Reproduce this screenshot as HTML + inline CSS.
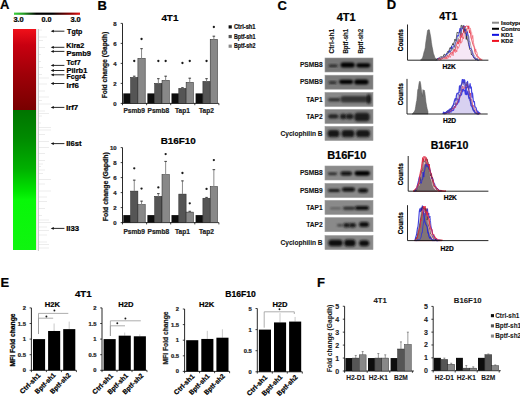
<!DOCTYPE html>
<html><head><meta charset="utf-8"><style>
html,body{margin:0;padding:0;background:#fff;width:520px;height:396px;overflow:hidden}
svg{display:block}
text{font-family:"Liberation Sans",sans-serif;font-weight:bold}
</style></head><body>
<svg width="520" height="396" viewBox="0 0 520 396">
<rect width="520" height="396" fill="#fff"/>
<text x="0" y="9.3" font-size="13" text-anchor="start" fill="#000" font-weight="bold" stroke="#000" stroke-width="0.22" >A</text>
<text x="97.6" y="9.6" font-size="13" text-anchor="start" fill="#000" font-weight="bold" stroke="#000" stroke-width="0.22" >B</text>
<text x="277.5" y="9.6" font-size="13" text-anchor="start" fill="#000" font-weight="bold" stroke="#000" stroke-width="0.22" >C</text>
<text x="386.8" y="9.4" font-size="13" text-anchor="start" fill="#000" font-weight="bold" stroke="#000" stroke-width="0.22" >D</text>
<text x="0.4" y="286.5" font-size="13" text-anchor="start" fill="#000" font-weight="bold" stroke="#000" stroke-width="0.22" >E</text>
<text x="317.0" y="286.5" font-size="13" text-anchor="start" fill="#000" font-weight="bold" stroke="#000" stroke-width="0.22" >F</text>
<defs><linearGradient id="cbar" x1="0" x2="1" y1="0" y2="0"><stop offset="0" stop-color="#3fd13f"/><stop offset="0.15" stop-color="#229a22"/><stop offset="0.34" stop-color="#000"/><stop offset="0.58" stop-color="#000"/><stop offset="0.85" stop-color="#8a0000"/><stop offset="1" stop-color="#e61414"/></linearGradient><linearGradient id="hred" x1="0" x2="0" y1="0" y2="1"><stop offset="0" stop-color="#f0101a"/><stop offset="0.2" stop-color="#c80010"/><stop offset="0.55" stop-color="#a00008"/><stop offset="1" stop-color="#780000"/></linearGradient><linearGradient id="hgreen" x1="0" x2="0" y1="0" y2="1"><stop offset="0" stop-color="#007400"/><stop offset="0.2" stop-color="#008a00"/><stop offset="0.42" stop-color="#00b000"/><stop offset="0.58" stop-color="#00e400"/><stop offset="0.64" stop-color="#08f808"/><stop offset="1" stop-color="#10f510"/></linearGradient><filter id="bl" x="-20%" y="-50%" width="140%" height="200%"><feGaussianBlur stdDeviation="0.8"/></filter><filter id="bl2" x="-20%" y="-50%" width="140%" height="200%"><feGaussianBlur stdDeviation="0.45"/></filter></defs>
<rect x="14.00" y="12.60" width="66.00" height="2.20" fill="url(#cbar)" />
<text x="13.4" y="21.8" font-size="7.2" text-anchor="start" fill="#000" font-weight="bold" textLength="10.4" lengthAdjust="spacingAndGlyphs" stroke="#000" stroke-width="0.22" >3.0</text>
<text x="41.4" y="21.8" font-size="7.2" text-anchor="start" fill="#000" font-weight="bold" textLength="10.0" lengthAdjust="spacingAndGlyphs" stroke="#000" stroke-width="0.22" >0.0</text>
<text x="70.4" y="21.8" font-size="7.2" text-anchor="start" fill="#000" font-weight="bold" textLength="10.4" lengthAdjust="spacingAndGlyphs" stroke="#000" stroke-width="0.22" >3.0</text>
<rect x="13.00" y="29.00" width="23.00" height="81.00" fill="url(#hred)" />
<rect x="13.00" y="110.00" width="23.00" height="140.00" fill="url(#hgreen)" />
<line x1="36.7" y1="29" x2="36.7" y2="250" stroke="#e0cccc" stroke-width="0.7"/>
<line x1="38.4" y1="29" x2="38.4" y2="251" stroke="#b8b8b8" stroke-width="0.8"/>
<line x1="39" y1="30.0" x2="42" y2="30.0" stroke="#d8d8d8" stroke-width="0.5"/>
<line x1="39" y1="37.0" x2="47" y2="37.0" stroke="#d8d8d8" stroke-width="0.5"/>
<line x1="39" y1="40.5" x2="43" y2="40.5" stroke="#d8d8d8" stroke-width="0.5"/>
<line x1="39" y1="47.5" x2="45" y2="47.5" stroke="#d8d8d8" stroke-width="0.5"/>
<line x1="39" y1="54.5" x2="41" y2="54.5" stroke="#d8d8d8" stroke-width="0.5"/>
<line x1="39" y1="61.5" x2="41" y2="61.5" stroke="#d8d8d8" stroke-width="0.5"/>
<line x1="39" y1="67.5" x2="43" y2="67.5" stroke="#d8d8d8" stroke-width="0.5"/>
<line x1="39" y1="74.5" x2="42" y2="74.5" stroke="#d8d8d8" stroke-width="0.5"/>
<line x1="39" y1="78.0" x2="49" y2="78.0" stroke="#d8d8d8" stroke-width="0.5"/>
<line x1="39" y1="84.0" x2="47" y2="84.0" stroke="#d8d8d8" stroke-width="0.5"/>
<line x1="39" y1="91.0" x2="45" y2="91.0" stroke="#d8d8d8" stroke-width="0.5"/>
<line x1="39" y1="97.0" x2="49" y2="97.0" stroke="#d8d8d8" stroke-width="0.5"/>
<line x1="39" y1="100.5" x2="42" y2="100.5" stroke="#d8d8d8" stroke-width="0.5"/>
<line x1="39" y1="104.0" x2="51" y2="104.0" stroke="#d8d8d8" stroke-width="0.5"/>
<line x1="39" y1="111.0" x2="45" y2="111.0" stroke="#d8d8d8" stroke-width="0.5"/>
<line x1="39" y1="113.5" x2="49" y2="113.5" stroke="#d8d8d8" stroke-width="0.5"/>
<line x1="39" y1="116.0" x2="42" y2="116.0" stroke="#d8d8d8" stroke-width="0.5"/>
<line x1="39" y1="123.0" x2="41" y2="123.0" stroke="#d8d8d8" stroke-width="0.5"/>
<line x1="39" y1="127.5" x2="51" y2="127.5" stroke="#d8d8d8" stroke-width="0.5"/>
<line x1="39" y1="130.0" x2="51" y2="130.0" stroke="#d8d8d8" stroke-width="0.5"/>
<line x1="39" y1="134.5" x2="45" y2="134.5" stroke="#d8d8d8" stroke-width="0.5"/>
<line x1="39" y1="141.5" x2="49" y2="141.5" stroke="#d8d8d8" stroke-width="0.5"/>
<line x1="39" y1="147.5" x2="49" y2="147.5" stroke="#d8d8d8" stroke-width="0.5"/>
<line x1="39" y1="153.5" x2="45" y2="153.5" stroke="#d8d8d8" stroke-width="0.5"/>
<line x1="39" y1="160.5" x2="45" y2="160.5" stroke="#d8d8d8" stroke-width="0.5"/>
<line x1="39" y1="164.0" x2="43" y2="164.0" stroke="#d8d8d8" stroke-width="0.5"/>
<line x1="39" y1="166.5" x2="41" y2="166.5" stroke="#d8d8d8" stroke-width="0.5"/>
<line x1="39" y1="170.0" x2="45" y2="170.0" stroke="#d8d8d8" stroke-width="0.5"/>
<line x1="39" y1="173.5" x2="43" y2="173.5" stroke="#d8d8d8" stroke-width="0.5"/>
<line x1="39" y1="179.5" x2="51" y2="179.5" stroke="#d8d8d8" stroke-width="0.5"/>
<line x1="39" y1="184.0" x2="45" y2="184.0" stroke="#d8d8d8" stroke-width="0.5"/>
<line x1="39" y1="191.0" x2="51" y2="191.0" stroke="#d8d8d8" stroke-width="0.5"/>
<line x1="39" y1="197.0" x2="47" y2="197.0" stroke="#d8d8d8" stroke-width="0.5"/>
<line x1="39" y1="201.5" x2="47" y2="201.5" stroke="#d8d8d8" stroke-width="0.5"/>
<line x1="39" y1="208.5" x2="45" y2="208.5" stroke="#d8d8d8" stroke-width="0.5"/>
<line x1="39" y1="215.5" x2="42" y2="215.5" stroke="#d8d8d8" stroke-width="0.5"/>
<line x1="39" y1="220.0" x2="49" y2="220.0" stroke="#d8d8d8" stroke-width="0.5"/>
<line x1="39" y1="222.5" x2="51" y2="222.5" stroke="#d8d8d8" stroke-width="0.5"/>
<line x1="39" y1="227.0" x2="47" y2="227.0" stroke="#d8d8d8" stroke-width="0.5"/>
<line x1="39" y1="230.5" x2="49" y2="230.5" stroke="#d8d8d8" stroke-width="0.5"/>
<line x1="39" y1="235.0" x2="47" y2="235.0" stroke="#d8d8d8" stroke-width="0.5"/>
<line x1="39" y1="242.0" x2="47" y2="242.0" stroke="#d8d8d8" stroke-width="0.5"/>
<line x1="39" y1="244.5" x2="49" y2="244.5" stroke="#d8d8d8" stroke-width="0.5"/>
<line x1="39" y1="248.0" x2="49" y2="248.0" stroke="#d8d8d8" stroke-width="0.5"/>
<line x1="52.6" y1="31.2" x2="64.4" y2="31.2" stroke="#111" stroke-width="0.9"/>
<path d="M50.7 31.2 L53.8 29.8 L53.8 32.6 Z" fill="#111"/>
<text x="67.1" y="33.8" font-size="7.8" text-anchor="start" fill="#000" font-weight="bold" textLength="15.2" lengthAdjust="spacingAndGlyphs" stroke="#000" stroke-width="0.22" >Tgtp</text>
<line x1="52.6" y1="47.3" x2="64.4" y2="47.3" stroke="#111" stroke-width="0.9"/>
<path d="M50.7 47.3 L53.8 45.9 L53.8 48.699999999999996 Z" fill="#111"/>
<text x="66.2" y="47.7" font-size="7.8" text-anchor="start" fill="#000" font-weight="bold" textLength="18" lengthAdjust="spacingAndGlyphs" stroke="#000" stroke-width="0.22" >Klra2</text>
<line x1="52.6" y1="51.4" x2="64.4" y2="51.4" stroke="#111" stroke-width="0.9"/>
<path d="M50.7 51.4 L53.8 50.0 L53.8 52.8 Z" fill="#111"/>
<text x="66.4" y="56.2" font-size="7.8" text-anchor="start" fill="#000" font-weight="bold" textLength="24.6" lengthAdjust="spacingAndGlyphs" stroke="#000" stroke-width="0.22" >Psmb9</text>
<line x1="52.6" y1="65.4" x2="64.4" y2="65.4" stroke="#111" stroke-width="0.9"/>
<path d="M50.7 65.4 L53.8 64.0 L53.8 66.80000000000001 Z" fill="#111"/>
<text x="66.5" y="65.3" font-size="7.8" text-anchor="start" fill="#000" font-weight="bold" textLength="14.1" lengthAdjust="spacingAndGlyphs" stroke="#000" stroke-width="0.22" >Tcf7</text>
<line x1="52.6" y1="70.5" x2="64.4" y2="70.5" stroke="#111" stroke-width="0.9"/>
<path d="M50.7 70.5 L53.8 69.1 L53.8 71.9 Z" fill="#111"/>
<text x="66.5" y="72.6" font-size="7.8" text-anchor="start" fill="#000" font-weight="bold" textLength="20.8" lengthAdjust="spacingAndGlyphs" stroke="#000" stroke-width="0.22" >Pilrb1</text>
<line x1="52.6" y1="74.8" x2="64.4" y2="74.8" stroke="#111" stroke-width="0.9"/>
<path d="M50.7 74.8 L53.8 73.39999999999999 L53.8 76.2 Z" fill="#111"/>
<text x="66.5" y="79.2" font-size="7.8" text-anchor="start" fill="#000" font-weight="bold" textLength="19" lengthAdjust="spacingAndGlyphs" stroke="#000" stroke-width="0.22" >Fcgr4</text>
<line x1="52.6" y1="83.5" x2="64.4" y2="83.5" stroke="#111" stroke-width="0.9"/>
<path d="M50.7 83.5 L53.8 82.1 L53.8 84.9 Z" fill="#111"/>
<text x="66.5" y="87.5" font-size="7.8" text-anchor="start" fill="#000" font-weight="bold" textLength="12.3" lengthAdjust="spacingAndGlyphs" stroke="#000" stroke-width="0.22" >Irf6</text>
<line x1="52.6" y1="107.4" x2="64.4" y2="107.4" stroke="#111" stroke-width="0.9"/>
<path d="M50.7 107.4 L53.8 106.0 L53.8 108.80000000000001 Z" fill="#111"/>
<text x="66.0" y="110" font-size="7.8" text-anchor="start" fill="#000" font-weight="bold" textLength="12.2" lengthAdjust="spacingAndGlyphs" stroke="#000" stroke-width="0.22" >Irf7</text>
<line x1="52.6" y1="143.6" x2="64.4" y2="143.6" stroke="#111" stroke-width="0.9"/>
<path d="M50.7 143.6 L53.8 142.2 L53.8 145.0 Z" fill="#111"/>
<text x="66.2" y="146" font-size="7.8" text-anchor="start" fill="#000" font-weight="bold" textLength="15.3" lengthAdjust="spacingAndGlyphs" stroke="#000" stroke-width="0.22" >Il6st</text>
<line x1="52.6" y1="228.4" x2="64.4" y2="228.4" stroke="#111" stroke-width="0.9"/>
<path d="M50.7 228.4 L53.8 227.0 L53.8 229.8 Z" fill="#111"/>
<text x="66.2" y="231" font-size="7.8" text-anchor="start" fill="#000" font-weight="bold" textLength="12.9" lengthAdjust="spacingAndGlyphs" stroke="#000" stroke-width="0.22" >Il33</text>
<line x1="122.5" y1="23.400000000000006" x2="122.5" y2="103.9" stroke="#111" stroke-width="0.9"/>
<line x1="122.5" y1="103.4" x2="218.8" y2="103.4" stroke="#111" stroke-width="0.9"/>
<line x1="120.7" y1="103.4" x2="122.5" y2="103.4" stroke="#111" stroke-width="0.8"/>
<text x="116.7" y="105.5" font-size="6" text-anchor="end" fill="#222" font-weight="bold" stroke="#222" stroke-width="0.22" >0</text>
<line x1="120.7" y1="83.4" x2="122.5" y2="83.4" stroke="#111" stroke-width="0.8"/>
<text x="116.7" y="85.5" font-size="6" text-anchor="end" fill="#222" font-weight="bold" stroke="#222" stroke-width="0.22" >2</text>
<line x1="120.7" y1="63.400000000000006" x2="122.5" y2="63.400000000000006" stroke="#111" stroke-width="0.8"/>
<text x="116.7" y="65.5" font-size="6" text-anchor="end" fill="#222" font-weight="bold" stroke="#222" stroke-width="0.22" >4</text>
<line x1="120.7" y1="43.400000000000006" x2="122.5" y2="43.400000000000006" stroke="#111" stroke-width="0.8"/>
<text x="116.7" y="45.50000000000001" font-size="6" text-anchor="end" fill="#222" font-weight="bold" stroke="#222" stroke-width="0.22" >6</text>
<line x1="120.7" y1="23.400000000000006" x2="122.5" y2="23.400000000000006" stroke="#111" stroke-width="0.8"/>
<text x="116.7" y="25.500000000000007" font-size="6" text-anchor="end" fill="#222" font-weight="bold" stroke="#222" stroke-width="0.22" >8</text>
<line x1="122.5" y1="103.4" x2="122.5" y2="105.2" stroke="#111" stroke-width="0.8"/>
<line x1="146.6" y1="103.4" x2="146.6" y2="105.2" stroke="#111" stroke-width="0.8"/>
<line x1="170.7" y1="103.4" x2="170.7" y2="105.2" stroke="#111" stroke-width="0.8"/>
<line x1="194.8" y1="103.4" x2="194.8" y2="105.2" stroke="#111" stroke-width="0.8"/>
<line x1="218.9" y1="103.4" x2="218.9" y2="105.2" stroke="#111" stroke-width="0.8"/>
<rect x="123.30" y="93.40" width="7.30" height="10.00" fill="#0d0d0d" />
<rect x="130.60" y="77.40" width="7.30" height="26.00" fill="#555555" stroke="#222" stroke-width="0.5" />
<line x1="134.25" y1="75.9" x2="134.25" y2="77.4" stroke="#8a8a8a" stroke-width="1.0"/>
<line x1="132.95" y1="76.2" x2="135.55" y2="76.2" stroke="#333" stroke-width="0.9"/>
<circle cx="134.25" cy="61" r="1.15" fill="#1a1a1a"/>
<rect x="137.90" y="58.40" width="7.30" height="45.00" fill="#888888" stroke="#222" stroke-width="0.5" />
<line x1="141.55" y1="48.400000000000006" x2="141.55" y2="58.400000000000006" stroke="#8a8a8a" stroke-width="1.0"/>
<line x1="140.25" y1="48.7" x2="142.85000000000002" y2="48.7" stroke="#333" stroke-width="0.9"/>
<circle cx="141.55" cy="39" r="1.15" fill="#1a1a1a"/>
<text x="134.2" y="113.4" font-size="6.6" text-anchor="middle" fill="#222" font-weight="bold" stroke="#222" stroke-width="0.22" >Psmb9</text>
<rect x="147.40" y="93.40" width="7.30" height="10.00" fill="#0d0d0d" />
<rect x="154.70" y="83.40" width="7.30" height="20.00" fill="#555555" stroke="#222" stroke-width="0.5" />
<line x1="158.35000000000002" y1="78.4" x2="158.35000000000002" y2="83.4" stroke="#8a8a8a" stroke-width="1.0"/>
<line x1="157.05" y1="78.7" x2="159.65000000000003" y2="78.7" stroke="#333" stroke-width="0.9"/>
<circle cx="158.35000000000002" cy="61" r="1.15" fill="#1a1a1a"/>
<rect x="162.00" y="80.40" width="7.30" height="23.00" fill="#888888" stroke="#222" stroke-width="0.5" />
<line x1="165.65" y1="75.9" x2="165.65" y2="80.4" stroke="#8a8a8a" stroke-width="1.0"/>
<line x1="164.35" y1="76.2" x2="166.95000000000002" y2="76.2" stroke="#333" stroke-width="0.9"/>
<circle cx="165.65" cy="61" r="1.15" fill="#1a1a1a"/>
<text x="158.3" y="113.4" font-size="6.6" text-anchor="middle" fill="#222" font-weight="bold" stroke="#222" stroke-width="0.22" >Psmb8</text>
<rect x="171.50" y="93.40" width="7.30" height="10.00" fill="#0d0d0d" />
<rect x="178.80" y="88.40" width="7.30" height="15.00" fill="#555555" stroke="#222" stroke-width="0.5" />
<line x1="182.45000000000002" y1="87.4" x2="182.45000000000002" y2="88.4" stroke="#8a8a8a" stroke-width="1.0"/>
<line x1="181.15" y1="87.7" x2="183.75000000000003" y2="87.7" stroke="#333" stroke-width="0.9"/>
<circle cx="182.45000000000002" cy="63" r="1.15" fill="#1a1a1a"/>
<rect x="186.10" y="82.40" width="7.30" height="21.00" fill="#888888" stroke="#222" stroke-width="0.5" />
<line x1="189.75" y1="77.9" x2="189.75" y2="82.4" stroke="#8a8a8a" stroke-width="1.0"/>
<line x1="188.45" y1="78.2" x2="191.05" y2="78.2" stroke="#333" stroke-width="0.9"/>
<circle cx="189.75" cy="61" r="1.15" fill="#1a1a1a"/>
<text x="182.4" y="113.4" font-size="6.6" text-anchor="middle" fill="#222" font-weight="bold" stroke="#222" stroke-width="0.22" >Tap1</text>
<rect x="195.60" y="93.40" width="7.30" height="10.00" fill="#0d0d0d" />
<rect x="202.90" y="81.40" width="7.30" height="22.00" fill="#555555" stroke="#222" stroke-width="0.5" />
<line x1="206.55000000000004" y1="78.4" x2="206.55000000000004" y2="81.4" stroke="#8a8a8a" stroke-width="1.0"/>
<line x1="205.25000000000003" y1="78.7" x2="207.85000000000005" y2="78.7" stroke="#333" stroke-width="0.9"/>
<circle cx="206.55000000000004" cy="61" r="1.15" fill="#1a1a1a"/>
<rect x="210.20" y="39.40" width="7.30" height="64.00" fill="#888888" stroke="#222" stroke-width="0.5" />
<line x1="213.85000000000002" y1="35.900000000000006" x2="213.85000000000002" y2="39.400000000000006" stroke="#8a8a8a" stroke-width="1.0"/>
<line x1="212.55" y1="36.2" x2="215.15000000000003" y2="36.2" stroke="#333" stroke-width="0.9"/>
<circle cx="213.85000000000002" cy="27" r="1.15" fill="#1a1a1a"/>
<text x="206.50000000000003" y="113.4" font-size="6.6" text-anchor="middle" fill="#222" font-weight="bold" stroke="#222" stroke-width="0.22" >Tap2</text>
<text x="169.9" y="21.1" font-size="9.9" text-anchor="middle" fill="#000" font-weight="bold" stroke="#000" stroke-width="0.22" >4T1</text>
<text transform="translate(104.5,65.1) rotate(-90)" x="0" y="2.30" font-size="6.4" font-weight="bold" text-anchor="middle" fill="#111" stroke="#111" stroke-width="0.22" textLength="66.5" lengthAdjust="spacingAndGlyphs">Fold change (Gapdh)</text>
<line x1="122.5" y1="147.6" x2="122.5" y2="223.1" stroke="#111" stroke-width="0.9"/>
<line x1="122.5" y1="222.6" x2="218.8" y2="222.6" stroke="#111" stroke-width="0.9"/>
<line x1="120.7" y1="222.6" x2="122.5" y2="222.6" stroke="#111" stroke-width="0.8"/>
<text x="116.7" y="224.7" font-size="6" text-anchor="end" fill="#222" font-weight="bold" stroke="#222" stroke-width="0.22" >0</text>
<line x1="120.7" y1="207.6" x2="122.5" y2="207.6" stroke="#111" stroke-width="0.8"/>
<text x="116.7" y="209.7" font-size="6" text-anchor="end" fill="#222" font-weight="bold" stroke="#222" stroke-width="0.22" >2</text>
<line x1="120.7" y1="192.6" x2="122.5" y2="192.6" stroke="#111" stroke-width="0.8"/>
<text x="116.7" y="194.7" font-size="6" text-anchor="end" fill="#222" font-weight="bold" stroke="#222" stroke-width="0.22" >4</text>
<line x1="120.7" y1="177.6" x2="122.5" y2="177.6" stroke="#111" stroke-width="0.8"/>
<text x="116.7" y="179.7" font-size="6" text-anchor="end" fill="#222" font-weight="bold" stroke="#222" stroke-width="0.22" >6</text>
<line x1="120.7" y1="162.6" x2="122.5" y2="162.6" stroke="#111" stroke-width="0.8"/>
<text x="116.7" y="164.7" font-size="6" text-anchor="end" fill="#222" font-weight="bold" stroke="#222" stroke-width="0.22" >8</text>
<line x1="120.7" y1="147.6" x2="122.5" y2="147.6" stroke="#111" stroke-width="0.8"/>
<text x="116.7" y="149.7" font-size="6" text-anchor="end" fill="#222" font-weight="bold" stroke="#222" stroke-width="0.22" >10</text>
<line x1="122.5" y1="222.6" x2="122.5" y2="224.4" stroke="#111" stroke-width="0.8"/>
<line x1="146.6" y1="222.6" x2="146.6" y2="224.4" stroke="#111" stroke-width="0.8"/>
<line x1="170.7" y1="222.6" x2="170.7" y2="224.4" stroke="#111" stroke-width="0.8"/>
<line x1="194.8" y1="222.6" x2="194.8" y2="224.4" stroke="#111" stroke-width="0.8"/>
<line x1="218.9" y1="222.6" x2="218.9" y2="224.4" stroke="#111" stroke-width="0.8"/>
<rect x="123.30" y="215.10" width="7.30" height="7.50" fill="#0d0d0d" />
<rect x="130.60" y="191.10" width="7.30" height="31.50" fill="#555555" stroke="#222" stroke-width="0.5" />
<line x1="134.25" y1="179.85" x2="134.25" y2="191.1" stroke="#8a8a8a" stroke-width="1.0"/>
<line x1="132.95" y1="180.15" x2="135.55" y2="180.15" stroke="#333" stroke-width="0.9"/>
<circle cx="134.25" cy="168.3" r="1.15" fill="#1a1a1a"/>
<rect x="137.90" y="204.60" width="7.30" height="18.00" fill="#888888" stroke="#222" stroke-width="0.5" />
<line x1="141.55" y1="200.85" x2="141.55" y2="204.6" stroke="#8a8a8a" stroke-width="1.0"/>
<line x1="140.25" y1="201.15" x2="142.85000000000002" y2="201.15" stroke="#333" stroke-width="0.9"/>
<circle cx="141.55" cy="188.6" r="1.15" fill="#1a1a1a"/>
<text x="134.2" y="234.2" font-size="6.6" text-anchor="middle" fill="#222" font-weight="bold" stroke="#222" stroke-width="0.22" >Psmb9</text>
<rect x="147.40" y="215.10" width="7.30" height="7.50" fill="#0d0d0d" />
<rect x="154.70" y="196.35" width="7.30" height="26.25" fill="#555555" stroke="#222" stroke-width="0.5" />
<line x1="158.35000000000002" y1="193.35" x2="158.35000000000002" y2="196.35" stroke="#8a8a8a" stroke-width="1.0"/>
<line x1="157.05" y1="193.65" x2="159.65000000000003" y2="193.65" stroke="#333" stroke-width="0.9"/>
<circle cx="158.35000000000002" cy="187.4" r="1.15" fill="#1a1a1a"/>
<rect x="162.00" y="174.60" width="7.30" height="48.00" fill="#888888" stroke="#222" stroke-width="0.5" />
<line x1="165.65" y1="161.1" x2="165.65" y2="174.6" stroke="#8a8a8a" stroke-width="1.0"/>
<line x1="164.35" y1="161.4" x2="166.95000000000002" y2="161.4" stroke="#333" stroke-width="0.9"/>
<circle cx="165.65" cy="154.1" r="1.15" fill="#1a1a1a"/>
<text x="158.3" y="234.2" font-size="6.6" text-anchor="middle" fill="#222" font-weight="bold" stroke="#222" stroke-width="0.22" >Psmb8</text>
<rect x="171.50" y="215.10" width="7.30" height="7.50" fill="#0d0d0d" />
<rect x="178.80" y="194.10" width="7.30" height="28.50" fill="#555555" stroke="#222" stroke-width="0.5" />
<line x1="182.45000000000002" y1="180.6" x2="182.45000000000002" y2="194.1" stroke="#8a8a8a" stroke-width="1.0"/>
<line x1="181.15" y1="180.9" x2="183.75000000000003" y2="180.9" stroke="#333" stroke-width="0.9"/>
<circle cx="182.45000000000002" cy="173" r="1.15" fill="#1a1a1a"/>
<rect x="186.10" y="212.10" width="7.30" height="10.50" fill="#888888" stroke="#222" stroke-width="0.5" />
<line x1="189.75" y1="210.975" x2="189.75" y2="212.1" stroke="#8a8a8a" stroke-width="1.0"/>
<line x1="188.45" y1="211.275" x2="191.05" y2="211.275" stroke="#333" stroke-width="0.9"/>
<circle cx="189.75" cy="203.3" r="1.15" fill="#1a1a1a"/>
<text x="182.4" y="234.2" font-size="6.6" text-anchor="middle" fill="#222" font-weight="bold" stroke="#222" stroke-width="0.22" >Tap1</text>
<rect x="195.60" y="215.10" width="7.30" height="7.50" fill="#0d0d0d" />
<rect x="202.90" y="198.22" width="7.30" height="24.38" fill="#555555" stroke="#222" stroke-width="0.5" />
<line x1="206.55000000000004" y1="197.1" x2="206.55000000000004" y2="198.225" stroke="#8a8a8a" stroke-width="1.0"/>
<line x1="205.25000000000003" y1="197.4" x2="207.85000000000005" y2="197.4" stroke="#333" stroke-width="0.9"/>
<circle cx="206.55000000000004" cy="188.9" r="1.15" fill="#1a1a1a"/>
<rect x="210.20" y="186.60" width="7.30" height="36.00" fill="#888888" stroke="#222" stroke-width="0.5" />
<line x1="213.85000000000002" y1="169.35" x2="213.85000000000002" y2="186.6" stroke="#8a8a8a" stroke-width="1.0"/>
<line x1="212.55" y1="169.65" x2="215.15000000000003" y2="169.65" stroke="#333" stroke-width="0.9"/>
<circle cx="213.85000000000002" cy="160.1" r="1.15" fill="#1a1a1a"/>
<text x="206.50000000000003" y="234.2" font-size="6.6" text-anchor="middle" fill="#222" font-weight="bold" stroke="#222" stroke-width="0.22" >Tap2</text>
<text x="178.3" y="144.4" font-size="9.9" text-anchor="middle" fill="#000" font-weight="bold" stroke="#000" stroke-width="0.22" >B16F10</text>
<text transform="translate(105.5,186.8) rotate(-90)" x="0" y="2.30" font-size="6.4" font-weight="bold" text-anchor="middle" fill="#111" stroke="#111" stroke-width="0.22" textLength="69" lengthAdjust="spacingAndGlyphs">Fold change (Gapdh)</text>
<rect x="228.60" y="25.30" width="3.20" height="3.20" fill="#0d0d0d" />
<text x="234.0" y="29.099999999999998" font-size="6.5" text-anchor="start" fill="#111" font-weight="bold" textLength="21.5" lengthAdjust="spacingAndGlyphs" stroke="#111" stroke-width="0.22" >Ctrl-sh1</text>
<rect x="228.60" y="34.95" width="3.20" height="3.20" fill="#555555" />
<text x="234.0" y="38.75" font-size="6.5" text-anchor="start" fill="#111" font-weight="bold" textLength="21.5" lengthAdjust="spacingAndGlyphs" stroke="#111" stroke-width="0.22" >Bptf-sh1</text>
<rect x="228.60" y="44.60" width="3.20" height="3.20" fill="#888888" />
<text x="234.0" y="48.400000000000006" font-size="6.5" text-anchor="start" fill="#111" font-weight="bold" textLength="21.5" lengthAdjust="spacingAndGlyphs" stroke="#111" stroke-width="0.22" >Bptf-sh2</text>
<text x="346.2" y="20.6" font-size="11" text-anchor="middle" fill="#000" font-weight="bold" stroke="#000" stroke-width="0.22" >4T1</text>
<text x="346.7" y="159.4" font-size="11" text-anchor="middle" fill="#000" font-weight="bold" stroke="#000" stroke-width="0.22" >B16F10</text>
<text transform="translate(332.0,41.2) rotate(-90)" x="0" y="2.38" font-size="6.6" font-weight="bold" text-anchor="middle" fill="#111" stroke="#111" stroke-width="0.12" textLength="24.8" lengthAdjust="spacingAndGlyphs">Ctrl-sh1</text>
<text transform="translate(345.7,41.2) rotate(-90)" x="0" y="2.38" font-size="6.6" font-weight="bold" text-anchor="middle" fill="#111" stroke="#111" stroke-width="0.12" textLength="24.8" lengthAdjust="spacingAndGlyphs">Bptf-sh1</text>
<text transform="translate(360.3,41.2) rotate(-90)" x="0" y="2.38" font-size="6.6" font-weight="bold" text-anchor="middle" fill="#111" stroke="#111" stroke-width="0.12" textLength="24.8" lengthAdjust="spacingAndGlyphs">Bptf-sh2</text>
<rect x="325.00" y="58.00" width="48.00" height="14.00" fill="#777" />
<rect x="325" y="58.0" width="48" height="14" fill="none" stroke="#9a9a9a" stroke-width="0.6"/>
<rect x="328.7" y="64.70" width="8.900000000000034" height="2.2" rx="1.10" fill="#1a1a1a" filter="url(#bl)"/>
<rect x="340.5" y="62.60" width="14.199999999999989" height="5.0" rx="2.50" fill="#000" filter="url(#bl)"/>
<rect x="356.3" y="63.15" width="14.0" height="4.3" rx="2.15" fill="#000" filter="url(#bl)"/>
<text x="322.6" y="67.1" font-size="6.6" text-anchor="end" fill="#111" font-weight="bold" stroke="#111" stroke-width="0.08" >PSMB8</text>
<rect x="325.00" y="75.20" width="48.00" height="14.00" fill="#7a7a7a" />
<rect x="325" y="75.2" width="48" height="14" fill="none" stroke="#9a9a9a" stroke-width="0.6"/>
<rect x="328.7" y="81.40" width="7.800000000000011" height="2.4" rx="1.20" fill="#1a1a1a" filter="url(#bl)"/>
<rect x="339.1" y="79.70" width="14.099999999999966" height="4.2" rx="2.10" fill="#000" filter="url(#bl)"/>
<rect x="354.2" y="79.50" width="14.300000000000011" height="5.0" rx="2.50" fill="#000" filter="url(#bl)"/>
<text x="322.6" y="84.3" font-size="6.6" text-anchor="end" fill="#111" font-weight="bold" stroke="#111" stroke-width="0.08" >PSMB9</text>
<rect x="325.00" y="92.50" width="48.00" height="14.00" fill="#888" />
<rect x="325" y="92.5" width="48" height="14" fill="none" stroke="#9a9a9a" stroke-width="0.6"/>
<rect x="328.0" y="97.90" width="12.5" height="3.6" rx="1.80" fill="#303030" filter="url(#bl)"/>
<rect x="340.5" y="96.00" width="30.0" height="6.6" rx="3.00" fill="#363636" filter="url(#bl)"/>
<rect x="366.8" y="94.25" width="4.0" height="9.5" rx="3.00" fill="#1a1a1a" filter="url(#bl)"/>
<text x="322.6" y="101.6" font-size="6.6" text-anchor="end" fill="#111" font-weight="bold" stroke="#111" stroke-width="0.08" >TAP1</text>
<rect x="325.00" y="109.50" width="48.00" height="14.00" fill="#828282" />
<rect x="325" y="109.5" width="48" height="14" fill="none" stroke="#9a9a9a" stroke-width="0.6"/>
<rect x="328.0" y="114.30" width="10.5" height="4.2" rx="2.10" fill="#222" filter="url(#bl)"/>
<rect x="340.0" y="113.65" width="6.5" height="5.5" rx="2.75" fill="#1c1c1c" filter="url(#bl)"/>
<rect x="346.0" y="113.65" width="7.5" height="5.5" rx="2.75" fill="#1c1c1c" filter="url(#bl)"/>
<rect x="354.5" y="112.65" width="15.0" height="8.5" rx="3.00" fill="#1c1c1c" filter="url(#bl)"/>
<text x="322.6" y="118.6" font-size="6.6" text-anchor="end" fill="#111" font-weight="bold" stroke="#111" stroke-width="0.08" >TAP2</text>
<rect x="325.00" y="126.50" width="48.00" height="14.00" fill="#8a8a8a" />
<rect x="325" y="126.5" width="48" height="14" fill="none" stroke="#9a9a9a" stroke-width="0.6"/>
<rect x="327.5" y="130.10" width="12.0" height="7.2" rx="3.00" fill="#181818" filter="url(#bl)"/>
<rect x="341.5" y="130.10" width="13.0" height="7.2" rx="3.00" fill="#181818" filter="url(#bl)"/>
<rect x="356.0" y="130.10" width="14.0" height="7.2" rx="3.00" fill="#181818" filter="url(#bl)"/>
<text x="322.6" y="135.6" font-size="6.6" text-anchor="end" fill="#111" font-weight="bold" stroke="#111" stroke-width="0.08" >Cyclophilin B</text>
<rect x="325.00" y="166.00" width="48.00" height="14.00" fill="#8a8a8a" />
<rect x="325" y="166.0" width="48" height="14" fill="none" stroke="#9a9a9a" stroke-width="0.6"/>
<rect x="328.0" y="172.60" width="9.0" height="2.4" rx="1.20" fill="#222" filter="url(#bl)"/>
<rect x="340.5" y="171.40" width="11.5" height="4.2" rx="2.10" fill="#080808" filter="url(#bl)"/>
<rect x="354.5" y="170.95" width="15.5" height="4.7" rx="2.35" fill="#050505" filter="url(#bl)"/>
<text x="322.6" y="175.1" font-size="6.6" text-anchor="end" fill="#111" font-weight="bold" stroke="#111" stroke-width="0.08" >PSMB8</text>
<rect x="325.00" y="183.50" width="48.00" height="14.00" fill="#8a8a8a" />
<rect x="325" y="183.5" width="48" height="14" fill="none" stroke="#9a9a9a" stroke-width="0.6"/>
<rect x="328.0" y="189.10" width="12.0" height="3.0" rx="1.50" fill="#151515" filter="url(#bl)"/>
<rect x="342.0" y="187.40" width="13.0" height="4.0" rx="2.00" fill="#0a0a0a" filter="url(#bl)"/>
<rect x="358.0" y="188.50" width="10.0" height="4.2" rx="2.10" fill="#0a0a0a" filter="url(#bl)"/>
<text x="322.6" y="192.6" font-size="6.6" text-anchor="end" fill="#111" font-weight="bold" stroke="#111" stroke-width="0.08" >PSMB9</text>
<rect x="325.00" y="200.40" width="48.00" height="14.00" fill="#8a8a8a" />
<rect x="325" y="200.4" width="48" height="14" fill="none" stroke="#9a9a9a" stroke-width="0.6"/>
<rect x="330.0" y="207.40" width="11.0" height="1.8" rx="0.90" fill="#555" filter="url(#bl)"/>
<rect x="343.0" y="206.80" width="12.0" height="3.0" rx="1.50" fill="#2a2a2a" filter="url(#bl)"/>
<rect x="355.0" y="206.00" width="14.0" height="4.0" rx="2.00" fill="#111" filter="url(#bl)"/>
<text x="322.6" y="209.5" font-size="6.6" text-anchor="end" fill="#111" font-weight="bold" stroke="#111" stroke-width="0.08" >TAP1</text>
<rect x="325.00" y="217.70" width="48.00" height="14.00" fill="#8a8a8a" />
<rect x="325" y="217.7" width="48" height="14" fill="none" stroke="#9a9a9a" stroke-width="0.6"/>
<rect x="337.0" y="224.05" width="6.0" height="2.5" rx="1.25" fill="#444" filter="url(#bl)"/>
<rect x="343.5" y="223.05" width="6.0" height="4.5" rx="2.25" fill="#151515" filter="url(#bl)"/>
<rect x="349.0" y="223.05" width="7.0" height="4.5" rx="2.25" fill="#151515" filter="url(#bl)"/>
<rect x="359.0" y="222.10" width="10.0" height="5.0" rx="2.50" fill="#111" filter="url(#bl)"/>
<text x="322.6" y="226.79999999999998" font-size="6.6" text-anchor="end" fill="#111" font-weight="bold" stroke="#111" stroke-width="0.08" >TAP2</text>
<rect x="325.00" y="235.60" width="48.00" height="14.00" fill="#8a8a8a" />
<rect x="325" y="235.6" width="48" height="14" fill="none" stroke="#9a9a9a" stroke-width="0.6"/>
<rect x="328.3" y="239.65" width="14.399999999999977" height="6.5" rx="3.00" fill="#111" filter="url(#bl)"/>
<rect x="344.2" y="239.40" width="11.400000000000034" height="7" rx="3.00" fill="#111" filter="url(#bl)"/>
<rect x="359.0" y="240.20" width="10.199999999999989" height="6" rx="3.00" fill="#111" filter="url(#bl)"/>
<text x="322.6" y="244.7" font-size="6.6" text-anchor="end" fill="#111" font-weight="bold" stroke="#111" stroke-width="0.08" >Cyclophilin B</text>
<text x="448.3" y="19.7" font-size="10.6" text-anchor="middle" fill="#000" font-weight="bold" stroke="#000" stroke-width="0.22" >4T1</text>
<text x="449.5" y="148.5" font-size="10.6" text-anchor="middle" fill="#000" font-weight="bold" stroke="#000" stroke-width="0.22" >B16F10</text>
<line x1="492" y1="22.7" x2="499" y2="22.7" stroke="#8a8a8a" stroke-width="2"/>
<text x="501" y="24.8" font-size="6" text-anchor="start" fill="#111" font-weight="bold" stroke="#111" stroke-width="0.22" >Isotype</text>
<line x1="492" y1="28.77" x2="499" y2="28.77" stroke="#000" stroke-width="2"/>
<text x="501" y="30.87" font-size="6" text-anchor="start" fill="#111" font-weight="bold" stroke="#111" stroke-width="0.22" >Control</text>
<line x1="492" y1="34.84" x2="499" y2="34.84" stroke="#1010e0" stroke-width="2"/>
<text x="501" y="36.940000000000005" font-size="6" text-anchor="start" fill="#111" font-weight="bold" stroke="#111" stroke-width="0.22" >KD1</text>
<line x1="492" y1="40.91" x2="499" y2="40.91" stroke="#ee1020" stroke-width="2"/>
<text x="501" y="43.01" font-size="6" text-anchor="start" fill="#111" font-weight="bold" stroke="#111" stroke-width="0.22" >KD2</text>
<path d="M420.50 60.20 L421.10 59.48 L421.85 58.70 L422.48 57.93 L423.13 55.83 L423.58 54.06 L424.02 51.96 L424.67 50.24 L425.28 47.42 L425.72 43.07 L426.44 38.21 L427.04 34.17 L427.56 30.45 L428.28 29.80 L428.78 29.80 L429.35 29.80 L430.11 33.86 L430.86 37.72 L431.42 42.39 L432.12 46.78 L432.89 50.36 L433.35 53.20 L433.83 54.45 L434.32 55.75 L434.78 57.41 L435.30 57.86 L435.83 58.67 L436.39 59.21 L436.85 59.37 L437.00 60.20 Z" fill="#6f6f6f" fill-opacity="1.0" stroke="#555" stroke-width="0.5" stroke-linejoin="round"/>
<path d="M437.00 60.20 L437.60 59.42 L438.26 59.69 L438.78 58.84 L439.42 58.99 L439.89 58.90 L440.33 58.40 L440.87 58.81 L441.30 59.10 L441.90 58.89 L442.66 58.62 L443.13 58.20 L443.61 57.72 L444.32 57.58 L444.96 57.17 L445.39 56.59 L446.16 56.22 L446.71 55.82 L447.17 56.20 L447.77 54.86 L448.20 54.49 L448.81 54.97 L449.37 53.44 L449.86 53.55 L450.40 52.79 L450.89 52.85 L451.66 51.58 L452.14 50.04 L452.63 49.75 L453.05 50.23 L453.59 50.71 L454.24 46.75 L454.84 48.20 L455.54 44.87 L456.04 44.80 L456.69 44.39 L457.43 43.30 L458.17 41.49 L458.77 38.81 L459.27 39.21 L459.93 34.05 L460.51 36.78 L461.28 33.84 L462.03 30.49 L462.60 30.92 L463.30 29.58 L463.86 27.85 L464.28 27.27 L464.99 27.00 L465.60 27.00 L466.06 27.95 L466.81 27.31 L467.46 31.40 L468.13 32.10 L468.70 34.34 L469.17 37.03 L469.84 37.19 L470.59 41.79 L471.17 44.65 L471.72 46.56 L472.48 49.83 L473.00 51.05 L473.50 51.08 L474.17 54.30 L474.81 54.58 L475.39 55.71 L475.89 56.96 L476.46 57.52 L477.23 58.46 L477.77 58.67 L478.37 59.44 L478.84 59.80 L479.35 60.16 L479.88 59.37 L480.44 59.55 L480.97 60.20 L481.00 60.20 Z" fill="#e0b0e0" fill-opacity="0.3" stroke="none" stroke-width="0" stroke-linejoin="round"/>
<path d="M436.00 60.20 L436.60 59.44 L437.27 58.31 L437.74 59.23 L438.21 58.46 L438.73 58.50 L439.37 59.19 L439.84 57.14 L440.55 56.93 L441.32 56.63 L442.04 56.96 L442.67 56.75 L443.24 56.24 L443.95 54.45 L444.57 54.19 L445.15 55.71 L445.75 54.99 L446.39 54.00 L446.90 54.31 L447.34 52.17 L447.90 51.28 L448.34 52.75 L449.06 50.41 L449.79 48.05 L450.29 47.40 L450.96 49.30 L451.60 45.71 L452.24 45.20 L452.79 43.46 L453.32 45.26 L453.78 43.17 L454.40 41.61 L454.94 39.06 L455.41 40.41 L456.04 40.46 L456.59 36.13 L457.19 32.06 L457.78 32.69 L458.22 32.88 L458.90 33.17 L459.63 31.67 L460.18 30.72 L460.67 30.22 L461.12 25.30 L461.54 25.30 L462.16 26.97 L462.74 28.51 L463.20 25.30 L463.73 32.25 L464.28 28.09 L465.05 33.47 L465.52 29.30 L466.26 39.36 L466.77 34.55 L467.32 40.06 L467.82 40.12 L468.58 44.45 L469.16 46.54 L469.88 49.73 L470.49 50.38 L471.02 51.50 L471.47 55.01 L471.93 54.53 L472.71 55.80 L473.35 56.73 L473.88 57.73 L474.66 58.85 L475.36 59.50 L475.87 59.80 L476.38 59.02 L476.95 58.93 L477.54 60.20 L478.00 60.20" fill="none" stroke="#222" stroke-width="0.8" stroke-linejoin="round" opacity="0.9"/>
<path d="M437.00 60.20 L437.60 59.75 L438.25 57.95 L438.77 58.22 L439.30 58.16 L440.00 59.11 L440.74 58.35 L441.45 57.41 L442.11 58.22 L442.57 57.92 L443.35 57.06 L443.92 56.23 L444.59 57.05 L445.24 55.88 L445.84 55.98 L446.34 53.90 L446.80 54.02 L447.23 53.16 L447.68 53.56 L448.30 53.01 L448.87 51.99 L449.38 50.37 L449.82 52.33 L450.45 52.02 L451.21 49.47 L451.83 46.42 L452.36 48.70 L452.95 47.47 L453.38 46.49 L454.01 45.53 L454.56 46.88 L455.05 43.88 L455.57 42.79 L456.32 41.05 L456.87 38.28 L457.63 35.35 L458.35 36.26 L459.12 33.33 L459.65 29.46 L460.16 28.13 L460.70 35.43 L461.37 31.77 L461.95 27.50 L462.66 28.83 L463.23 29.31 L463.70 26.00 L464.20 26.00 L464.75 26.00 L465.37 32.15 L465.89 30.21 L466.62 35.68 L467.37 31.56 L467.95 34.97 L468.67 36.11 L469.20 45.14 L469.83 48.12 L470.53 48.52 L471.06 48.55 L471.72 50.17 L472.23 52.17 L472.97 54.36 L473.55 56.76 L473.98 57.90 L474.69 57.50 L475.30 57.85 L476.04 59.91 L476.67 58.86 L477.34 58.81 L477.83 60.20 L478.42 60.12 L478.88 60.20 L479.00 60.20" fill="none" stroke="#2222dd" stroke-width="0.9" stroke-linejoin="round" opacity="0.9"/>
<path d="M438.00 60.20 L438.60 58.41 L439.08 58.18 L439.74 58.57 L440.25 59.47 L440.77 59.51 L441.50 58.14 L442.00 57.90 L442.50 58.70 L442.95 58.34 L443.58 57.37 L444.14 57.29 L444.74 57.34 L445.22 56.65 L445.90 57.80 L446.64 58.30 L447.23 55.76 L447.79 55.52 L448.34 56.55 L449.06 55.83 L449.60 54.24 L450.30 54.39 L450.86 52.76 L451.55 52.74 L452.31 53.38 L452.90 51.71 L453.62 50.37 L454.32 49.30 L454.83 51.21 L455.49 48.40 L456.13 45.95 L456.66 44.46 L457.40 41.50 L457.95 44.11 L458.42 43.93 L458.96 39.28 L459.49 41.45 L460.17 42.59 L460.90 32.68 L461.52 37.05 L461.99 37.64 L462.68 33.04 L463.42 32.51 L463.84 26.70 L464.57 28.09 L465.18 26.10 L465.69 26.81 L466.15 26.35 L466.63 25.80 L467.17 25.80 L467.83 27.09 L468.29 28.92 L468.73 25.80 L469.44 33.07 L469.93 30.34 L470.61 34.03 L471.11 38.60 L471.55 38.76 L472.29 42.15 L472.89 44.10 L473.48 45.93 L474.05 46.78 L474.56 49.36 L475.30 53.57 L476.08 54.13 L476.51 55.50 L477.22 56.89 L477.78 57.13 L478.26 57.03 L478.85 57.60 L479.46 59.58 L480.16 59.38 L480.83 59.32 L481.00 60.20" fill="none" stroke="#e8283a" stroke-width="0.9" stroke-linejoin="round" opacity="0.9"/>
<path d="M439.00 60.20 L439.60 59.79 L440.17 59.57 L440.83 59.81 L441.25 59.66 L441.72 58.79 L442.43 58.25 L443.17 58.35 L443.60 58.90 L444.12 59.21 L444.64 57.97 L445.21 58.07 L445.73 59.09 L446.45 57.30 L446.96 58.42 L447.54 58.37 L448.23 58.18 L448.82 55.80 L449.53 56.45 L450.13 57.46 L450.70 55.88 L451.35 55.31 L451.96 53.31 L452.61 53.05 L453.07 55.80 L453.72 50.92 L454.47 50.65 L454.99 52.41 L455.74 52.23 L456.17 49.99 L456.76 51.94 L457.42 46.32 L457.87 48.50 L458.33 48.23 L459.06 46.52 L459.79 44.32 L460.28 42.23 L461.01 43.21 L461.43 41.87 L461.90 42.26 L462.43 38.77 L463.02 36.97 L463.62 38.96 L464.28 33.38 L464.86 31.55 L465.30 31.73 L465.87 32.47 L466.45 28.96 L466.95 30.57 L467.39 28.00 L467.86 28.00 L468.36 28.02 L469.09 28.00 L469.78 28.00 L470.42 28.22 L470.92 31.25 L471.59 32.35 L472.05 38.83 L472.74 35.42 L473.50 42.57 L474.19 46.10 L474.70 47.51 L475.18 51.62 L475.66 48.93 L476.35 52.03 L476.82 51.91 L477.28 53.93 L477.83 57.19 L478.60 56.88 L479.23 57.74 L479.85 59.15 L480.40 58.42 L481.16 59.88 L481.73 58.87 L482.00 60.20" fill="none" stroke="#f06070" stroke-width="0.8" stroke-linejoin="round" opacity="0.9"/>
<path d="M437.00 60.20 L437.60 59.18 L438.37 59.46 L439.04 58.91 L439.60 58.30 L440.20 58.97 L440.96 58.58 L441.40 57.59 L441.88 57.63 L442.64 58.37 L443.38 57.11 L443.83 56.21 L444.60 57.62 L445.32 55.59 L445.76 55.45 L446.52 55.86 L447.25 55.68 L448.02 54.24 L448.53 52.70 L449.15 52.61 L449.90 53.00 L450.65 51.28 L451.08 50.13 L451.66 51.08 L452.35 48.04 L453.09 50.12 L453.76 47.52 L454.53 45.39 L455.02 48.30 L455.51 42.34 L456.22 40.48 L456.66 37.26 L457.38 39.42 L457.83 41.79 L458.34 38.10 L458.82 38.54 L459.41 36.67 L460.03 34.52 L460.80 31.19 L461.33 34.14 L461.76 29.16 L462.34 27.00 L462.96 27.00 L463.60 28.91 L464.30 28.73 L464.93 27.00 L465.42 27.00 L466.11 29.23 L466.72 30.08 L467.14 33.40 L467.86 34.43 L468.35 37.65 L469.02 41.71 L469.77 41.44 L470.23 41.90 L470.66 45.45 L471.16 46.88 L471.86 50.07 L472.35 51.35 L472.89 52.87 L473.67 54.59 L474.21 55.26 L474.64 56.09 L475.18 57.77 L475.68 58.01 L476.15 58.96 L476.68 59.45 L477.18 58.28 L477.65 59.80 L478.26 59.85 L478.96 60.20 L479.43 59.88 L480.00 60.20" fill="none" stroke="#777" stroke-width="0.6" stroke-linejoin="round" opacity="0.9"/>
<line x1="407.5" y1="24.5" x2="407.5" y2="60.2" stroke="#111" stroke-width="0.9"/>
<line x1="407.5" y1="60.2" x2="488.4" y2="60.2" stroke="#111" stroke-width="0.9"/>
<text x="449.1" y="69.3" font-size="6.6" text-anchor="middle" fill="#000" font-weight="bold" stroke="#000" stroke-width="0.22" >H2K</text>
<text transform="translate(400.8,40.2) rotate(-90)" x="0" y="2.38" font-size="6.6" font-weight="bold" text-anchor="middle" fill="#000" stroke="#000" stroke-width="0.22" textLength="22" lengthAdjust="spacingAndGlyphs">Counts</text>
<path d="M412.00 114.00 L412.60 113.89 L413.25 113.11 L413.95 111.81 L414.56 111.35 L415.19 109.60 L415.69 106.45 L416.38 102.08 L416.81 100.53 L417.27 95.34 L417.75 89.76 L418.33 88.63 L418.92 84.08 L419.43 81.53 L420.20 81.40 L420.89 85.19 L421.36 89.89 L421.85 92.44 L422.42 96.36 L422.97 89.57 L423.40 90.95 L424.18 90.09 L424.80 92.48 L425.44 97.57 L425.92 102.02 L426.68 106.27 L427.21 108.90 L427.91 111.26 L428.00 114.00 Z" fill="#6f6f6f" fill-opacity="1.0" stroke="#555" stroke-width="0.5" stroke-linejoin="round"/>
<path d="M443.00 114.00 L443.60 113.11 L444.38 113.58 L444.92 112.81 L445.69 113.16 L446.44 112.57 L447.12 112.96 L447.75 112.32 L448.38 111.45 L449.15 111.40 L449.79 111.33 L450.32 110.31 L450.98 110.54 L451.64 109.84 L452.07 108.42 L452.67 108.42 L453.42 107.60 L454.05 106.71 L454.67 105.51 L455.28 105.08 L455.83 103.42 L456.58 100.80 L457.15 101.38 L457.63 99.26 L458.17 99.85 L458.78 95.72 L459.27 95.00 L459.99 91.99 L460.71 91.20 L461.34 87.80 L461.93 87.01 L462.48 85.36 L463.12 83.39 L463.77 83.94 L464.35 83.17 L464.89 87.75 L465.40 88.09 L465.86 89.55 L466.40 89.29 L467.12 90.47 L467.85 88.78 L468.45 87.10 L469.12 87.93 L469.63 89.48 L470.10 90.25 L470.54 93.43 L470.98 94.46 L471.40 96.98 L472.13 101.01 L472.60 102.60 L473.31 105.70 L473.96 107.34 L474.70 108.64 L475.43 110.33 L475.91 110.56 L476.58 111.49 L477.06 112.43 L477.76 112.98 L478.25 113.49 L478.75 113.37 L479.23 113.49 L479.86 113.68 L480.00 114.00 Z" fill="#a898e0" fill-opacity="0.45" stroke="none" stroke-width="0" stroke-linejoin="round"/>
<path d="M443.00 114.00 L443.60 112.19 L444.34 113.60 L444.91 112.70 L445.49 112.92 L445.92 113.01 L446.49 111.83 L447.04 112.52 L447.68 110.77 L448.45 110.88 L449.00 109.89 L449.53 110.64 L450.21 108.59 L450.86 109.33 L451.57 108.99 L452.01 107.18 L452.72 105.89 L453.25 105.09 L453.87 103.03 L454.54 100.46 L455.16 98.62 L455.92 100.26 L456.36 96.01 L457.02 93.31 L457.79 93.57 L458.48 92.81 L459.03 92.58 L459.52 86.00 L460.02 90.31 L460.50 85.91 L461.01 85.48 L461.59 84.69 L462.31 79.70 L462.87 79.70 L463.52 82.89 L464.09 79.70 L464.71 80.16 L465.25 87.33 L465.76 87.32 L466.37 94.65 L466.96 93.79 L467.38 94.02 L467.86 91.16 L468.52 96.25 L469.09 98.48 L469.69 97.74 L470.31 101.05 L471.05 105.49 L471.78 106.31 L472.44 107.79 L472.98 109.71 L473.74 111.09 L474.31 110.82 L474.93 112.71 L475.39 113.17 L476.11 113.09 L476.58 113.19 L477.30 114.00 L477.81 112.83 L478.25 113.23 L478.80 114.00 L479.00 114.00" fill="none" stroke="#2a2ad8" stroke-width="1.3" stroke-linejoin="round" opacity="0.9"/>
<path d="M444.00 114.00 L444.60 113.14 L445.09 112.45 L445.54 112.81 L446.22 112.74 L446.95 112.12 L447.72 112.37 L448.25 111.53 L448.97 113.06 L449.50 112.04 L450.24 110.83 L450.98 112.13 L451.69 110.03 L452.42 110.75 L453.17 110.52 L453.65 109.92 L454.31 106.80 L455.09 106.32 L455.60 105.96 L456.25 104.83 L456.95 104.44 L457.67 103.37 L458.25 99.91 L458.80 102.22 L459.34 99.24 L459.77 95.54 L460.48 95.91 L461.05 95.19 L461.58 94.38 L462.33 89.28 L462.75 91.62 L463.42 89.35 L464.17 90.22 L464.86 91.14 L465.42 94.27 L465.87 89.82 L466.48 87.55 L467.06 86.22 L467.50 81.40 L468.17 85.96 L468.88 89.43 L469.48 86.57 L470.08 83.64 L470.73 88.05 L471.30 87.03 L472.02 97.11 L472.49 93.08 L473.22 100.11 L473.73 101.79 L474.37 101.69 L474.89 106.67 L475.66 107.24 L476.20 108.04 L476.68 110.52 L477.36 111.55 L477.89 111.25 L478.40 112.54 L479.16 112.71 L479.67 112.87 L480.00 114.00" fill="none" stroke="#3030e0" stroke-width="1.2" stroke-linejoin="round" opacity="0.9"/>
<path d="M444.00 114.00 L444.60 113.55 L445.32 113.67 L445.97 113.81 L446.48 113.23 L447.12 113.35 L447.84 112.39 L448.48 111.66 L449.07 112.60 L449.72 112.27 L450.29 111.77 L450.73 110.63 L451.20 110.15 L451.91 110.42 L452.54 109.31 L453.14 107.84 L453.66 109.09 L454.37 106.53 L454.96 106.90 L455.51 107.79 L456.18 102.68 L456.68 104.40 L457.23 103.31 L457.87 100.52 L458.40 99.56 L459.07 98.27 L459.84 98.16 L460.41 93.17 L461.04 92.64 L461.46 90.77 L461.92 89.19 L462.35 86.41 L462.87 85.98 L463.32 88.47 L463.99 88.91 L464.51 88.49 L465.18 86.70 L465.91 86.67 L466.66 84.00 L467.17 84.00 L467.70 86.34 L468.41 89.46 L469.14 91.87 L469.74 95.64 L470.43 93.03 L471.02 100.00 L471.57 100.06 L472.11 100.45 L472.66 106.84 L473.12 105.16 L473.59 105.65 L474.27 107.41 L475.01 108.86 L475.45 109.93 L475.91 110.60 L476.34 111.45 L477.03 113.30 L477.47 113.56 L478.07 113.71 L478.71 113.82 L479.37 113.82 L479.84 112.98 L480.00 114.00" fill="none" stroke="#d03050" stroke-width="0.7" stroke-linejoin="round" opacity="0.9"/>
<path d="M443.00 114.00 L443.60 112.87 L444.09 112.91 L444.79 113.85 L445.39 112.60 L446.17 112.76 L446.87 110.92 L447.37 112.80 L448.09 110.74 L448.81 112.24 L449.33 111.35 L449.76 110.30 L450.47 109.07 L451.20 109.96 L451.71 107.46 L452.28 108.93 L452.90 106.76 L453.45 105.43 L453.90 104.49 L454.66 103.58 L455.10 105.00 L455.54 104.05 L456.09 99.85 L456.79 98.17 L457.33 98.87 L457.77 99.91 L458.37 93.75 L459.09 94.49 L459.80 95.77 L460.33 94.53 L460.78 93.97 L461.45 84.29 L462.04 83.68 L462.66 82.00 L463.24 84.55 L464.01 83.65 L464.69 82.02 L465.37 83.72 L465.88 86.01 L466.45 85.79 L466.88 82.00 L467.33 88.09 L467.80 84.68 L468.47 89.97 L469.23 90.79 L469.69 94.11 L470.17 101.00 L470.66 99.39 L471.34 102.84 L472.04 105.37 L472.81 106.66 L473.25 108.70 L473.69 110.19 L474.22 109.84 L474.72 111.44 L475.39 112.74 L476.08 112.81 L476.85 113.77 L477.60 112.50 L478.36 113.14 L479.00 114.00" fill="none" stroke="#5040a0" stroke-width="0.8" stroke-linejoin="round" opacity="0.9"/>
<line x1="407.0" y1="78.9" x2="407.0" y2="114.0" stroke="#111" stroke-width="0.9"/>
<line x1="407.0" y1="114.0" x2="487.7" y2="114.0" stroke="#111" stroke-width="0.9"/>
<text x="449.5" y="123.1" font-size="6.6" text-anchor="middle" fill="#000" font-weight="bold" stroke="#000" stroke-width="0.22" >H2D</text>
<text transform="translate(400.8,94.3) rotate(-90)" x="0" y="2.38" font-size="6.6" font-weight="bold" text-anchor="middle" fill="#000" stroke="#000" stroke-width="0.22" textLength="22" lengthAdjust="spacingAndGlyphs">Counts</text>
<path d="M413.00 191.20 L413.60 191.20 L414.27 191.11 L414.96 190.72 L415.62 190.18 L416.20 189.06 L416.65 188.96 L417.22 187.52 L417.77 184.57 L418.27 183.65 L419.03 179.84 L419.52 177.39 L419.95 175.37 L420.61 173.57 L421.29 169.86 L421.79 167.88 L422.33 163.37 L423.05 157.06 L423.83 156.60 L424.31 156.60 L424.98 156.60 L425.61 157.01 L426.36 157.46 L426.85 159.63 L427.43 159.32 L427.89 164.39 L428.36 165.34 L429.03 164.53 L429.63 167.17 L430.19 170.08 L430.62 172.59 L431.29 173.02 L431.80 175.65 L432.35 179.84 L432.87 182.00 L433.60 183.25 L434.09 184.11 L434.62 185.30 L435.29 185.92 L435.86 186.90 L436.44 187.43 L436.91 188.98 L437.60 188.41 L438.23 190.07 L438.69 190.04 L439.22 190.29 L439.84 190.79 L440.52 190.23 L441.26 191.15 L441.98 191.13 L442.69 191.19 L443.23 190.85 L443.93 191.20 L444.58 191.18 L445.33 191.20 L445.93 191.20 L446.00 191.20 Z" fill="#f2a8b8" fill-opacity="0.75" stroke="#e02840" stroke-width="0.8" stroke-linejoin="round"/>
<path d="M414.50 191.20 L415.10 191.20 L415.63 190.48 L416.31 190.79 L417.03 189.94 L417.77 189.16 L418.23 188.91 L418.96 186.57 L419.45 185.72 L419.91 185.30 L420.34 183.23 L421.10 180.18 L421.79 176.18 L422.48 172.66 L423.02 170.98 L423.80 167.18 L424.51 164.57 L424.96 164.85 L425.40 163.39 L425.89 162.50 L426.56 162.50 L427.32 163.74 L427.93 167.08 L428.48 167.26 L429.09 172.02 L429.74 176.27 L430.16 178.41 L430.79 179.39 L431.33 181.63 L431.91 184.99 L432.39 185.78 L433.17 187.97 L433.80 188.78 L434.35 189.02 L434.84 190.39 L435.52 190.31 L436.07 191.01 L436.84 190.58 L437.00 191.20 Z" fill="#7a7070" fill-opacity="0.95" stroke="#555" stroke-width="0.4" stroke-linejoin="round"/>
<path d="M414.00 191.20 L414.60 190.86 L415.31 191.20 L416.05 189.02 L416.70 188.24 L417.31 185.71 L417.96 182.56 L418.55 180.54 L419.24 176.71 L419.99 177.09 L420.46 181.49 L420.98 183.51 L421.67 181.64 L422.18 179.00 L422.71 179.23 L423.14 172.00 L423.76 177.14 L424.29 172.59 L424.79 170.09 L425.37 166.37 L425.98 164.00 L426.43 164.43 L427.13 167.18 L427.56 164.00 L428.09 164.00 L428.57 165.64 L429.00 169.67 L429.68 168.69 L430.29 171.95 L431.05 174.06 L431.76 178.80 L432.44 177.51 L433.08 179.18 L433.80 182.76 L434.55 183.36 L435.18 185.96 L435.83 186.66 L436.28 188.51 L436.91 189.08 L437.36 188.38 L437.98 188.84 L438.40 189.27 L439.15 190.21 L439.58 190.16 L440.08 191.20 L440.79 190.54 L441.00 191.20" fill="none" stroke="#2323d8" stroke-width="0.9" stroke-linejoin="round" opacity="0.9"/>
<path d="M414.00 191.20 L414.60 190.82 L415.32 189.92 L415.87 189.49 L416.41 190.64 L416.88 189.81 L417.58 188.38 L418.09 187.20 L418.80 184.31 L419.45 184.02 L419.94 181.29 L420.57 179.04 L421.08 174.59 L421.77 170.70 L422.23 171.15 L422.94 166.84 L423.48 159.00 L424.25 161.49 L424.72 161.52 L425.25 162.55 L425.70 159.00 L426.21 159.00 L426.82 159.00 L427.58 161.47 L428.03 162.04 L428.56 163.85 L429.11 168.70 L429.86 170.43 L430.47 175.98 L431.07 174.08 L431.69 177.62 L432.36 177.28 L433.14 183.98 L433.91 186.55 L434.55 186.21 L435.24 187.65 L435.92 188.26 L436.54 189.68 L437.12 190.07 L437.60 190.51 L438.13 189.73 L438.71 191.20 L439.47 191.20 L440.16 190.88 L440.84 190.88 L441.37 190.52 L441.96 190.59 L442.00 191.20" fill="none" stroke="#222" stroke-width="0.6" stroke-linejoin="round" opacity="0.9"/>
<path d="M413.00 191.20 L413.60 190.67 L414.29 189.77 L415.06 189.73 L415.75 188.15 L416.30 187.67 L416.99 187.01 L417.41 184.87 L417.84 184.38 L418.38 184.63 L419.11 182.36 L419.85 174.72 L420.62 170.66 L421.18 168.99 L421.95 163.45 L422.69 157.74 L423.31 161.82 L424.04 158.02 L424.55 157.50 L425.25 157.50 L425.71 160.43 L426.45 159.73 L427.17 164.57 L427.69 164.06 L428.13 165.85 L428.77 166.07 L429.30 164.14 L429.75 170.58 L430.33 172.11 L430.75 172.71 L431.21 175.33 L431.77 176.75 L432.27 178.44 L432.78 179.39 L433.37 181.00 L434.04 184.42 L434.77 186.99 L435.38 186.22 L436.15 187.40 L436.62 188.79 L437.12 188.98 L437.69 189.06 L438.27 189.70 L438.90 191.19 L439.45 190.62 L439.95 190.11 L440.50 190.74 L441.28 191.20 L441.97 191.06 L442.70 190.50 L443.24 191.20 L443.71 191.20 L444.30 191.20 L444.75 191.20 L445.44 191.01 L445.98 191.20 L446.00 191.20" fill="none" stroke="#e02840" stroke-width="0.9" stroke-linejoin="round" opacity="0.9"/>
<line x1="408.2" y1="156.0" x2="408.2" y2="191.2" stroke="#111" stroke-width="0.9"/>
<line x1="408.2" y1="191.2" x2="488.4" y2="191.2" stroke="#111" stroke-width="0.9"/>
<text x="450.3" y="200.3" font-size="6.6" text-anchor="middle" fill="#000" font-weight="bold" stroke="#000" stroke-width="0.22" >H2K</text>
<text transform="translate(400.8,174.3) rotate(-90)" x="0" y="2.38" font-size="6.6" font-weight="bold" text-anchor="middle" fill="#000" stroke="#000" stroke-width="0.22" textLength="22" lengthAdjust="spacingAndGlyphs">Counts</text>
<path d="M414.50 240.60 L415.10 240.33 L415.58 239.40 L416.25 239.31 L416.93 238.35 L417.59 236.53 L418.07 236.41 L418.55 233.70 L418.99 230.49 L419.71 229.09 L420.39 225.27 L420.86 219.14 L421.63 217.59 L422.27 207.74 L423.00 207.83 L423.57 206.30 L424.13 209.55 L424.81 207.19 L425.42 206.30 L425.96 214.71 L426.69 208.92 L427.15 208.50 L427.81 213.73 L428.38 215.66 L428.88 219.57 L429.55 222.41 L430.32 225.91 L430.98 228.34 L431.52 228.37 L432.26 231.23 L432.76 234.55 L433.42 235.66 L434.04 236.67 L434.54 236.02 L435.18 237.44 L435.78 237.75 L436.49 239.75 L437.25 239.39 L437.91 240.30 L438.61 240.60 L439.24 240.46 L439.99 239.90 L440.47 240.02 L441.19 240.06 L441.82 240.60 L442.00 240.60 Z" fill="#f2a8b8" fill-opacity="0.7" stroke="#e02840" stroke-width="0.8" stroke-linejoin="round"/>
<path d="M415.00 240.60 L415.60 238.90 L416.10 238.02 L416.84 237.26 L417.27 236.04 L417.70 234.79 L418.32 232.56 L419.03 229.91 L419.70 224.62 L420.24 222.58 L420.88 218.50 L421.49 214.93 L422.11 212.85 L422.84 211.80 L423.28 212.55 L423.73 213.78 L424.38 212.88 L424.87 214.45 L425.52 214.49 L426.00 218.42 L426.65 221.06 L427.38 224.21 L427.81 227.34 L428.30 228.43 L428.84 231.25 L429.59 234.24 L430.10 235.60 L430.73 236.72 L431.22 237.56 L431.68 239.08 L432.38 239.53 L433.16 239.93 L433.89 240.60 L434.56 240.37 L435.21 240.60 L435.79 240.21 L436.00 240.60 Z" fill="#7a7070" fill-opacity="0.95" stroke="#555" stroke-width="0.4" stroke-linejoin="round"/>
<path d="M414.50 240.60 L415.10 239.83 L415.57 237.69 L416.28 235.34 L416.70 233.44 L417.43 228.51 L418.01 226.34 L418.72 219.25 L419.32 211.25 L419.92 208.73 L420.36 211.71 L421.08 207.93 L421.69 210.29 L422.32 205.80 L422.78 207.53 L423.52 213.14 L424.19 217.54 L424.89 221.74 L425.45 223.42 L426.21 224.97 L426.91 226.23 L427.35 228.21 L427.80 233.03 L428.27 232.34 L428.85 236.11 L429.63 238.12 L430.40 237.20 L430.94 238.37 L431.70 239.09 L432.43 240.23 L432.88 240.60 L433.45 239.90 L433.96 240.22 L434.50 240.60 L435.22 240.10 L435.88 239.60 L436.37 240.60 L437.14 240.60 L437.59 240.60 L438.23 240.57 L438.96 239.66 L439.00 240.60" fill="none" stroke="#2323d8" stroke-width="1.1" stroke-linejoin="round" opacity="0.9"/>
<path d="M415.50 240.60 L416.10 240.60 L416.83 240.60 L417.26 240.60 L417.87 239.28 L418.42 240.21 L418.96 240.55 L419.60 239.99 L420.37 238.65 L421.14 237.00 L421.73 232.85 L422.24 232.94 L422.95 226.13 L423.64 221.95 L424.36 217.32 L424.97 216.76 L425.68 209.51 L426.39 211.56 L426.89 213.26 L427.54 208.73 L428.09 215.27 L428.81 213.05 L429.25 218.16 L429.90 216.02 L430.43 220.40 L430.85 225.03 L431.50 228.68 L432.22 231.46 L432.73 234.28 L433.46 234.76 L434.06 237.26 L434.62 237.67 L435.07 239.10 L435.72 240.22 L436.38 238.58 L437.08 240.58 L437.79 240.60 L438.42 240.60 L438.98 240.60 L439.49 240.60 L440.00 240.60" fill="none" stroke="#3030d8" stroke-width="0.9" stroke-linejoin="round" opacity="0.9"/>
<path d="M415.00 240.60 L415.60 239.45 L416.05 239.03 L416.57 238.12 L417.26 236.49 L417.73 232.51 L418.22 229.90 L418.67 229.11 L419.42 225.73 L420.12 220.58 L420.81 216.09 L421.55 208.83 L422.28 207.00 L422.93 207.00 L423.68 208.62 L424.11 208.00 L424.63 209.82 L425.10 212.20 L425.84 208.20 L426.50 215.63 L427.03 220.05 L427.46 216.34 L428.09 223.61 L428.67 226.21 L429.32 228.00 L429.92 229.92 L430.64 233.98 L431.35 234.50 L431.91 235.20 L432.60 237.27 L433.16 237.24 L433.72 238.89 L434.46 240.12 L435.18 239.38 L435.73 239.29 L436.50 240.42 L437.17 240.05 L437.90 240.22 L438.56 240.33 L439.06 240.60 L439.62 240.31 L440.37 240.07 L440.93 240.60 L441.00 240.60" fill="none" stroke="#222" stroke-width="0.6" stroke-linejoin="round" opacity="0.9"/>
<path d="M415.00 240.60 L415.60 239.20 L416.23 238.70 L416.84 238.44 L417.27 238.81 L417.99 234.17 L418.60 232.39 L419.05 230.16 L419.53 228.35 L420.14 227.44 L420.74 220.03 L421.20 220.69 L421.94 215.78 L422.63 214.89 L423.27 206.30 L423.72 207.52 L424.27 206.30 L424.90 209.63 L425.34 210.84 L425.83 212.57 L426.31 211.35 L427.07 215.72 L427.50 211.82 L427.95 216.24 L428.42 218.16 L429.14 219.06 L429.81 224.97 L430.34 229.45 L431.12 228.65 L431.77 229.50 L432.52 234.04 L433.08 234.59 L433.59 234.02 L434.33 235.46 L434.85 238.39 L435.60 238.05 L436.12 238.92 L436.88 238.55 L437.51 239.09 L437.99 240.60 L438.68 239.84 L439.30 240.09 L439.72 240.08 L440.26 240.60 L440.78 240.26 L441.24 240.60 L441.76 239.68 L442.50 240.32 L443.00 240.60" fill="none" stroke="#e02840" stroke-width="0.9" stroke-linejoin="round" opacity="0.9"/>
<line x1="407.5" y1="205.2" x2="407.5" y2="240.6" stroke="#111" stroke-width="0.9"/>
<line x1="407.5" y1="240.6" x2="488.4" y2="240.6" stroke="#111" stroke-width="0.9"/>
<text x="447.2" y="250.5" font-size="6.6" text-anchor="middle" fill="#000" font-weight="bold" stroke="#000" stroke-width="0.22" >H2D</text>
<text transform="translate(400.8,223.3) rotate(-90)" x="0" y="2.38" font-size="6.6" font-weight="bold" text-anchor="middle" fill="#000" stroke="#000" stroke-width="0.22" textLength="22" lengthAdjust="spacingAndGlyphs">Counts</text>
<text x="83.3" y="296.8" font-size="9.7" text-anchor="middle" fill="#000" font-weight="bold" stroke="#000" stroke-width="0.22" >4T1</text>
<text x="240.5" y="296.5" font-size="8.6" text-anchor="middle" fill="#000" font-weight="bold" stroke="#000" stroke-width="0.22" >B16F10</text>
<line x1="31.4" y1="307.90000000000003" x2="31.4" y2="370.7" stroke="#111" stroke-width="0.9"/>
<line x1="31.4" y1="370.3" x2="76.4" y2="370.3" stroke="#111" stroke-width="0.9"/>
<line x1="29.599999999999998" y1="370.3" x2="31.4" y2="370.3" stroke="#111" stroke-width="0.8"/>
<text x="25.9" y="372.3" font-size="5.8" text-anchor="end" fill="#222" font-weight="bold" stroke="#222" stroke-width="0.22" >0</text>
<line x1="29.599999999999998" y1="354.7" x2="31.4" y2="354.7" stroke="#111" stroke-width="0.8"/>
<text x="25.9" y="356.7" font-size="5.8" text-anchor="end" fill="#222" font-weight="bold" stroke="#222" stroke-width="0.22" >0.5</text>
<line x1="29.599999999999998" y1="339.1" x2="31.4" y2="339.1" stroke="#111" stroke-width="0.8"/>
<text x="25.9" y="341.1" font-size="5.8" text-anchor="end" fill="#222" font-weight="bold" stroke="#222" stroke-width="0.22" >1</text>
<line x1="29.599999999999998" y1="323.5" x2="31.4" y2="323.5" stroke="#111" stroke-width="0.8"/>
<text x="25.9" y="325.5" font-size="5.8" text-anchor="end" fill="#222" font-weight="bold" stroke="#222" stroke-width="0.22" >1.5</text>
<line x1="29.599999999999998" y1="307.90000000000003" x2="31.4" y2="307.90000000000003" stroke="#111" stroke-width="0.8"/>
<text x="25.9" y="309.90000000000003" font-size="5.8" text-anchor="end" fill="#222" font-weight="bold" stroke="#222" stroke-width="0.22" >2</text>
<line x1="31.4" y1="370.3" x2="31.4" y2="372.1" stroke="#111" stroke-width="0.8"/>
<line x1="46.4" y1="370.3" x2="46.4" y2="372.1" stroke="#111" stroke-width="0.8"/>
<line x1="61.4" y1="370.3" x2="61.4" y2="372.1" stroke="#111" stroke-width="0.8"/>
<line x1="76.4" y1="370.3" x2="76.4" y2="372.1" stroke="#111" stroke-width="0.8"/>
<rect x="33.00" y="339.10" width="12.10" height="31.20" fill="#000" />
<line x1="54.1" y1="323.5" x2="54.1" y2="330.988" stroke="#bbb" stroke-width="0.8"/>
<rect x="48.10" y="330.99" width="12.10" height="39.31" fill="#000" />
<line x1="69.2" y1="321.628" x2="69.2" y2="329.116" stroke="#bbb" stroke-width="0.8"/>
<rect x="63.20" y="329.12" width="12.10" height="41.18" fill="#000" />
<path d="M38.5 334 L38.5 313.4 L68.3 313.4 L68.3 313.4" fill="none" stroke="#999" stroke-width="0.8"/>
<path d="M38.5 334 L38.5 318.2 L53.2 318.2 L53.2 318.2" fill="none" stroke="#999" stroke-width="0.8"/>
<text x="52.4" y="306.6" font-size="7.6" text-anchor="middle" fill="#000" font-weight="bold" stroke="#000" stroke-width="0.22" >H2K</text>
<text transform="translate(40.9,375.8) rotate(-45)" x="0" y="0" font-size="6.8" text-anchor="end" fill="#000" stroke="#000" stroke-width="0.22" textLength="26" lengthAdjust="spacingAndGlyphs">Ctrl-sh1</text>
<text transform="translate(56.0,375.8) rotate(-45)" x="0" y="0" font-size="6.8" text-anchor="end" fill="#000" stroke="#000" stroke-width="0.22" textLength="26" lengthAdjust="spacingAndGlyphs">Bptf-sh1</text>
<text transform="translate(71.1,375.8) rotate(-45)" x="0" y="0" font-size="6.8" text-anchor="end" fill="#000" stroke="#000" stroke-width="0.22" textLength="26" lengthAdjust="spacingAndGlyphs">Bptf-sh2</text>
<text transform="translate(13.2,340) rotate(-90)" x="0" y="2.27" font-size="6.3" font-weight="bold" text-anchor="middle" fill="#000" stroke="#000" stroke-width="0.22" textLength="53" lengthAdjust="spacingAndGlyphs">MFI Fold change</text>
<circle cx="54.4" cy="310.5" r="0.95" fill="#1a1a1a"/>
<circle cx="46.4" cy="316.5" r="0.95" fill="#1a1a1a"/>
<line x1="102.0" y1="307.90000000000003" x2="102.0" y2="370.7" stroke="#111" stroke-width="0.9"/>
<line x1="102.0" y1="370.3" x2="147.0" y2="370.3" stroke="#111" stroke-width="0.9"/>
<line x1="100.2" y1="370.3" x2="102.0" y2="370.3" stroke="#111" stroke-width="0.8"/>
<text x="96.5" y="372.3" font-size="5.8" text-anchor="end" fill="#222" font-weight="bold" stroke="#222" stroke-width="0.22" >0</text>
<line x1="100.2" y1="354.7" x2="102.0" y2="354.7" stroke="#111" stroke-width="0.8"/>
<text x="96.5" y="356.7" font-size="5.8" text-anchor="end" fill="#222" font-weight="bold" stroke="#222" stroke-width="0.22" >0.5</text>
<line x1="100.2" y1="339.1" x2="102.0" y2="339.1" stroke="#111" stroke-width="0.8"/>
<text x="96.5" y="341.1" font-size="5.8" text-anchor="end" fill="#222" font-weight="bold" stroke="#222" stroke-width="0.22" >1</text>
<line x1="100.2" y1="323.5" x2="102.0" y2="323.5" stroke="#111" stroke-width="0.8"/>
<text x="96.5" y="325.5" font-size="5.8" text-anchor="end" fill="#222" font-weight="bold" stroke="#222" stroke-width="0.22" >1.5</text>
<line x1="100.2" y1="307.90000000000003" x2="102.0" y2="307.90000000000003" stroke="#111" stroke-width="0.8"/>
<text x="96.5" y="309.90000000000003" font-size="5.8" text-anchor="end" fill="#222" font-weight="bold" stroke="#222" stroke-width="0.22" >2</text>
<line x1="102.0" y1="370.3" x2="102.0" y2="372.1" stroke="#111" stroke-width="0.8"/>
<line x1="117.0" y1="370.3" x2="117.0" y2="372.1" stroke="#111" stroke-width="0.8"/>
<line x1="132.0" y1="370.3" x2="132.0" y2="372.1" stroke="#111" stroke-width="0.8"/>
<line x1="147.0" y1="370.3" x2="147.0" y2="372.1" stroke="#111" stroke-width="0.8"/>
<rect x="103.60" y="339.10" width="12.10" height="31.20" fill="#000" />
<line x1="124.69999999999999" y1="332.548" x2="124.69999999999999" y2="335.668" stroke="#bbb" stroke-width="0.8"/>
<rect x="118.70" y="335.67" width="12.10" height="34.63" fill="#000" />
<line x1="139.79999999999998" y1="334.42" x2="139.79999999999998" y2="336.29200000000003" stroke="#bbb" stroke-width="0.8"/>
<rect x="133.80" y="336.29" width="12.10" height="34.01" fill="#000" />
<path d="M110.4 336 L110.4 320.8 L140.8 320.8 L140.8 320.8" fill="none" stroke="#999" stroke-width="0.8"/>
<path d="M110.4 336 L110.4 325.8 L125.0 325.8 L125.0 325.8" fill="none" stroke="#999" stroke-width="0.8"/>
<text x="125.8" y="306.6" font-size="7.6" text-anchor="middle" fill="#000" font-weight="bold" stroke="#000" stroke-width="0.22" >H2D</text>
<text transform="translate(113.5,376.3) rotate(-45)" x="0" y="0" font-size="6.8" text-anchor="end" fill="#000" stroke="#000" stroke-width="0.22" textLength="26" lengthAdjust="spacingAndGlyphs">Ctrl-sh1</text>
<text transform="translate(128.6,376.3) rotate(-45)" x="0" y="0" font-size="6.8" text-anchor="end" fill="#000" stroke="#000" stroke-width="0.22" textLength="26" lengthAdjust="spacingAndGlyphs">Bptf-sh1</text>
<text transform="translate(143.7,376.3) rotate(-45)" x="0" y="0" font-size="6.8" text-anchor="end" fill="#000" stroke="#000" stroke-width="0.22" textLength="26" lengthAdjust="spacingAndGlyphs">Bptf-sh2</text>
<circle cx="125.4" cy="318.5" r="0.95" fill="#1a1a1a"/>
<circle cx="117.3" cy="323.3" r="0.95" fill="#1a1a1a"/>
<line x1="184.6" y1="309.0" x2="184.6" y2="371.79999999999995" stroke="#111" stroke-width="0.9"/>
<line x1="184.6" y1="371.4" x2="229.6" y2="371.4" stroke="#111" stroke-width="0.9"/>
<line x1="182.79999999999998" y1="371.4" x2="184.6" y2="371.4" stroke="#111" stroke-width="0.8"/>
<text x="179.1" y="373.4" font-size="5.8" text-anchor="end" fill="#222" font-weight="bold" stroke="#222" stroke-width="0.22" >0</text>
<line x1="182.79999999999998" y1="355.79999999999995" x2="184.6" y2="355.79999999999995" stroke="#111" stroke-width="0.8"/>
<text x="179.1" y="357.79999999999995" font-size="5.8" text-anchor="end" fill="#222" font-weight="bold" stroke="#222" stroke-width="0.22" >0.5</text>
<line x1="182.79999999999998" y1="340.2" x2="184.6" y2="340.2" stroke="#111" stroke-width="0.8"/>
<text x="179.1" y="342.2" font-size="5.8" text-anchor="end" fill="#222" font-weight="bold" stroke="#222" stroke-width="0.22" >1</text>
<line x1="182.79999999999998" y1="324.59999999999997" x2="184.6" y2="324.59999999999997" stroke="#111" stroke-width="0.8"/>
<text x="179.1" y="326.59999999999997" font-size="5.8" text-anchor="end" fill="#222" font-weight="bold" stroke="#222" stroke-width="0.22" >1.5</text>
<line x1="182.79999999999998" y1="309.0" x2="184.6" y2="309.0" stroke="#111" stroke-width="0.8"/>
<text x="179.1" y="311.0" font-size="5.8" text-anchor="end" fill="#222" font-weight="bold" stroke="#222" stroke-width="0.22" >2</text>
<line x1="184.6" y1="371.4" x2="184.6" y2="373.2" stroke="#111" stroke-width="0.8"/>
<line x1="199.6" y1="371.4" x2="199.6" y2="373.2" stroke="#111" stroke-width="0.8"/>
<line x1="214.6" y1="371.4" x2="214.6" y2="373.2" stroke="#111" stroke-width="0.8"/>
<line x1="229.6" y1="371.4" x2="229.6" y2="373.2" stroke="#111" stroke-width="0.8"/>
<rect x="186.20" y="340.20" width="12.10" height="31.20" fill="#000" />
<line x1="207.29999999999998" y1="330.84" x2="207.29999999999998" y2="338.952" stroke="#bbb" stroke-width="0.8"/>
<rect x="201.30" y="338.95" width="12.10" height="32.45" fill="#000" />
<line x1="222.39999999999998" y1="329.28" x2="222.39999999999998" y2="337.70399999999995" stroke="#bbb" stroke-width="0.8"/>
<rect x="216.40" y="337.70" width="12.10" height="33.70" fill="#000" />
<text x="206.6" y="306.6" font-size="7.6" text-anchor="middle" fill="#000" font-weight="bold" stroke="#000" stroke-width="0.22" >H2K</text>
<text transform="translate(195.0,376.8) rotate(-45)" x="0" y="0" font-size="6.8" text-anchor="end" fill="#000" stroke="#000" stroke-width="0.22" textLength="26" lengthAdjust="spacingAndGlyphs">Ctrl-sh1</text>
<text transform="translate(210.1,376.8) rotate(-45)" x="0" y="0" font-size="6.8" text-anchor="end" fill="#000" stroke="#000" stroke-width="0.22" textLength="26" lengthAdjust="spacingAndGlyphs">Bptf-sh1</text>
<text transform="translate(225.2,376.8) rotate(-45)" x="0" y="0" font-size="6.8" text-anchor="end" fill="#000" stroke="#000" stroke-width="0.22" textLength="26" lengthAdjust="spacingAndGlyphs">Bptf-sh2</text>
<text transform="translate(166,338) rotate(-90)" x="0" y="2.45" font-size="6.8" font-weight="normal" text-anchor="middle" fill="#222" stroke="#222" stroke-width="0.22" textLength="53" lengthAdjust="spacingAndGlyphs">MFI Fold change</text>
<line x1="257.3" y1="308.5" x2="257.3" y2="372.2" stroke="#111" stroke-width="0.9"/>
<line x1="257.3" y1="371.8" x2="302.3" y2="371.8" stroke="#111" stroke-width="0.9"/>
<line x1="255.5" y1="371.8" x2="257.3" y2="371.8" stroke="#111" stroke-width="0.8"/>
<text x="251.8" y="373.8" font-size="5.8" text-anchor="end" fill="#222" font-weight="bold" stroke="#222" stroke-width="0.22" >0</text>
<line x1="255.5" y1="350.7" x2="257.3" y2="350.7" stroke="#111" stroke-width="0.8"/>
<text x="251.8" y="352.7" font-size="5.8" text-anchor="end" fill="#222" font-weight="bold" stroke="#222" stroke-width="0.22" >0.5</text>
<line x1="255.5" y1="329.6" x2="257.3" y2="329.6" stroke="#111" stroke-width="0.8"/>
<text x="251.8" y="331.6" font-size="5.8" text-anchor="end" fill="#222" font-weight="bold" stroke="#222" stroke-width="0.22" >1</text>
<line x1="255.5" y1="308.5" x2="257.3" y2="308.5" stroke="#111" stroke-width="0.8"/>
<text x="251.8" y="310.5" font-size="5.8" text-anchor="end" fill="#222" font-weight="bold" stroke="#222" stroke-width="0.22" >5</text>
<line x1="257.3" y1="371.8" x2="257.3" y2="373.6" stroke="#111" stroke-width="0.8"/>
<line x1="272.3" y1="371.8" x2="272.3" y2="373.6" stroke="#111" stroke-width="0.8"/>
<line x1="287.3" y1="371.8" x2="287.3" y2="373.6" stroke="#111" stroke-width="0.8"/>
<line x1="302.3" y1="371.8" x2="302.3" y2="373.6" stroke="#111" stroke-width="0.8"/>
<rect x="258.90" y="329.60" width="12.10" height="42.20" fill="#000" />
<line x1="280.00000000000006" y1="313.142" x2="280.00000000000006" y2="322.426" stroke="#bbb" stroke-width="0.8"/>
<rect x="274.00" y="322.43" width="12.10" height="49.37" fill="#000" />
<line x1="295.1" y1="316.94" x2="295.1" y2="321.582" stroke="#bbb" stroke-width="0.8"/>
<rect x="289.10" y="321.58" width="12.10" height="50.22" fill="#000" />
<path d="M264.2 327.7 L264.2 311.8 L294.3 311.8 L294.3 314" fill="none" stroke="#999" stroke-width="0.8"/>
<text x="280.0" y="306.6" font-size="7.6" text-anchor="middle" fill="#000" font-weight="bold" stroke="#000" stroke-width="0.22" >H2D</text>
<text transform="translate(267.8,377.8) rotate(-45)" x="0" y="0" font-size="6.8" text-anchor="end" fill="#000" stroke="#000" stroke-width="0.22" textLength="26" lengthAdjust="spacingAndGlyphs">Ctrl-sh1</text>
<text transform="translate(282.90000000000003,377.8) rotate(-45)" x="0" y="0" font-size="6.8" text-anchor="end" fill="#000" stroke="#000" stroke-width="0.22" textLength="26" lengthAdjust="spacingAndGlyphs">Bptf-sh1</text>
<text transform="translate(298.0,377.8) rotate(-45)" x="0" y="0" font-size="6.8" text-anchor="end" fill="#000" stroke="#000" stroke-width="0.22" textLength="26" lengthAdjust="spacingAndGlyphs">Bptf-sh2</text>
<circle cx="279.5" cy="309.2" r="0.95" fill="#1a1a1a"/>
<line x1="344.6" y1="306.25" x2="344.6" y2="371.4" stroke="#111" stroke-width="0.9"/>
<line x1="344.6" y1="371.0" x2="413.90000000000003" y2="371.0" stroke="#111" stroke-width="0.9"/>
<line x1="342.8" y1="371.0" x2="344.6" y2="371.0" stroke="#111" stroke-width="0.8"/>
<text x="339.20000000000005" y="373.5" font-size="7" text-anchor="end" fill="#222" font-weight="bold" stroke="#222" stroke-width="0.1" >0</text>
<line x1="342.8" y1="358.05" x2="344.6" y2="358.05" stroke="#111" stroke-width="0.8"/>
<text x="339.20000000000005" y="360.55" font-size="7" text-anchor="end" fill="#222" font-weight="bold" stroke="#222" stroke-width="0.1" >1</text>
<line x1="342.8" y1="345.1" x2="344.6" y2="345.1" stroke="#111" stroke-width="0.8"/>
<text x="339.20000000000005" y="347.6" font-size="7" text-anchor="end" fill="#222" font-weight="bold" stroke="#222" stroke-width="0.1" >2</text>
<line x1="342.8" y1="332.15" x2="344.6" y2="332.15" stroke="#111" stroke-width="0.8"/>
<text x="339.20000000000005" y="334.65" font-size="7" text-anchor="end" fill="#222" font-weight="bold" stroke="#222" stroke-width="0.1" >3</text>
<line x1="342.8" y1="319.2" x2="344.6" y2="319.2" stroke="#111" stroke-width="0.8"/>
<text x="339.20000000000005" y="321.7" font-size="7" text-anchor="end" fill="#222" font-weight="bold" stroke="#222" stroke-width="0.1" >4</text>
<line x1="342.8" y1="306.25" x2="344.6" y2="306.25" stroke="#111" stroke-width="0.8"/>
<text x="339.20000000000005" y="308.75" font-size="7" text-anchor="end" fill="#222" font-weight="bold" stroke="#222" stroke-width="0.1" >5</text>
<line x1="344.6" y1="371.0" x2="344.6" y2="372.8" stroke="#111" stroke-width="0.8"/>
<line x1="367.20000000000005" y1="371.0" x2="367.20000000000005" y2="372.8" stroke="#111" stroke-width="0.8"/>
<line x1="389.8" y1="371.0" x2="389.8" y2="372.8" stroke="#111" stroke-width="0.8"/>
<line x1="412.40000000000003" y1="371.0" x2="412.40000000000003" y2="372.8" stroke="#111" stroke-width="0.8"/>
<rect x="345.40" y="358.05" width="6.90" height="12.95" fill="#0d0d0d" />
<rect x="352.30" y="358.05" width="6.90" height="12.95" fill="#555555" stroke="#222" stroke-width="0.4" />
<line x1="355.75" y1="355.46000000000004" x2="355.75" y2="358.05" stroke="#555" stroke-width="0.6"/>
<line x1="354.75" y1="355.46000000000004" x2="356.75" y2="355.46000000000004" stroke="#555" stroke-width="0.6"/>
<rect x="359.20" y="354.81" width="6.90" height="16.19" fill="#888888" stroke="#222" stroke-width="0.4" />
<line x1="362.65000000000003" y1="351.575" x2="362.65000000000003" y2="354.8125" stroke="#555" stroke-width="0.6"/>
<line x1="361.65000000000003" y1="351.575" x2="363.65000000000003" y2="351.575" stroke="#555" stroke-width="0.6"/>
<text x="355.70000000000005" y="379.8" font-size="6.6" text-anchor="middle" fill="#1a1a1a" font-weight="bold" stroke="#1a1a1a" stroke-width="0.1" >H2-D1</text>
<rect x="368.00" y="358.05" width="6.90" height="12.95" fill="#0d0d0d" />
<rect x="374.90" y="358.05" width="6.90" height="12.95" fill="#555555" stroke="#222" stroke-width="0.4" />
<line x1="378.35" y1="353.5175" x2="378.35" y2="358.05" stroke="#555" stroke-width="0.6"/>
<line x1="377.35" y1="353.5175" x2="379.35" y2="353.5175" stroke="#555" stroke-width="0.6"/>
<rect x="381.80" y="358.05" width="6.90" height="12.95" fill="#888888" stroke="#222" stroke-width="0.4" />
<line x1="385.25000000000006" y1="354.8125" x2="385.25000000000006" y2="358.05" stroke="#555" stroke-width="0.6"/>
<line x1="384.25000000000006" y1="354.8125" x2="386.25000000000006" y2="354.8125" stroke="#555" stroke-width="0.6"/>
<text x="378.30000000000007" y="379.8" font-size="6.6" text-anchor="middle" fill="#1a1a1a" font-weight="bold" stroke="#1a1a1a" stroke-width="0.1" >H2-K1</text>
<rect x="390.60" y="358.05" width="6.90" height="12.95" fill="#0d0d0d" />
<rect x="397.50" y="348.99" width="6.90" height="22.01" fill="#555555" stroke="#222" stroke-width="0.4" />
<line x1="400.95" y1="341.8625" x2="400.95" y2="348.985" stroke="#555" stroke-width="0.6"/>
<line x1="399.95" y1="341.8625" x2="401.95" y2="341.8625" stroke="#555" stroke-width="0.6"/>
<rect x="404.40" y="344.45" width="6.90" height="26.55" fill="#888888" stroke="#222" stroke-width="0.4" />
<line x1="407.85" y1="332.15" x2="407.85" y2="344.4525" stroke="#555" stroke-width="0.6"/>
<line x1="406.85" y1="332.15" x2="408.85" y2="332.15" stroke="#555" stroke-width="0.6"/>
<text x="400.90000000000003" y="379.8" font-size="6.6" text-anchor="middle" fill="#1a1a1a" font-weight="bold" stroke="#1a1a1a" stroke-width="0.1" >B2M</text>
<text x="380.1" y="303.2" font-size="7.8" text-anchor="middle" fill="#1a1a1a" font-weight="bold" stroke="#1a1a1a" stroke-width="0.08" >4T1</text>
<text transform="translate(329.7,338.5) rotate(-90)" x="0" y="2.45" font-size="6.8" font-weight="bold" text-anchor="middle" fill="#1a1a1a" stroke="#1a1a1a" stroke-width="0.06" textLength="67.5" lengthAdjust="spacingAndGlyphs">Fold change (Gapdh)</text>
<line x1="433.2" y1="306.4" x2="433.2" y2="371.09999999999997" stroke="#111" stroke-width="0.9"/>
<line x1="433.2" y1="370.7" x2="500.7" y2="370.7" stroke="#111" stroke-width="0.9"/>
<line x1="431.4" y1="370.7" x2="433.2" y2="370.7" stroke="#111" stroke-width="0.8"/>
<text x="427.8" y="373.2" font-size="7" text-anchor="end" fill="#222" font-weight="bold" stroke="#222" stroke-width="0.1" >0</text>
<line x1="431.4" y1="357.84" x2="433.2" y2="357.84" stroke="#111" stroke-width="0.8"/>
<text x="427.8" y="360.34" font-size="7" text-anchor="end" fill="#222" font-weight="bold" stroke="#222" stroke-width="0.1" >1</text>
<line x1="431.4" y1="344.98" x2="433.2" y2="344.98" stroke="#111" stroke-width="0.8"/>
<text x="427.8" y="347.48" font-size="7" text-anchor="end" fill="#222" font-weight="bold" stroke="#222" stroke-width="0.1" >2</text>
<line x1="431.4" y1="332.12" x2="433.2" y2="332.12" stroke="#111" stroke-width="0.8"/>
<text x="427.8" y="334.62" font-size="7" text-anchor="end" fill="#222" font-weight="bold" stroke="#222" stroke-width="0.1" >3</text>
<line x1="431.4" y1="319.26" x2="433.2" y2="319.26" stroke="#111" stroke-width="0.8"/>
<text x="427.8" y="321.76" font-size="7" text-anchor="end" fill="#222" font-weight="bold" stroke="#222" stroke-width="0.1" >4</text>
<line x1="431.4" y1="306.4" x2="433.2" y2="306.4" stroke="#111" stroke-width="0.8"/>
<text x="427.8" y="308.9" font-size="7" text-anchor="end" fill="#222" font-weight="bold" stroke="#222" stroke-width="0.1" >5</text>
<line x1="433.2" y1="370.7" x2="433.2" y2="372.5" stroke="#111" stroke-width="0.8"/>
<line x1="455.2" y1="370.7" x2="455.2" y2="372.5" stroke="#111" stroke-width="0.8"/>
<line x1="477.2" y1="370.7" x2="477.2" y2="372.5" stroke="#111" stroke-width="0.8"/>
<line x1="499.2" y1="370.7" x2="499.2" y2="372.5" stroke="#111" stroke-width="0.8"/>
<rect x="434.00" y="357.84" width="6.90" height="12.86" fill="#0d0d0d" />
<rect x="440.90" y="359.38" width="6.90" height="11.32" fill="#555555" stroke="#222" stroke-width="0.4" />
<line x1="444.34999999999997" y1="358.0972" x2="444.34999999999997" y2="359.3832" stroke="#555" stroke-width="0.6"/>
<line x1="443.34999999999997" y1="358.0972" x2="445.34999999999997" y2="358.0972" stroke="#555" stroke-width="0.6"/>
<rect x="447.80" y="364.27" width="6.90" height="6.43" fill="#888888" stroke="#222" stroke-width="0.4" />
<line x1="451.25" y1="363.2412" x2="451.25" y2="364.27" stroke="#555" stroke-width="0.6"/>
<line x1="450.25" y1="363.2412" x2="452.25" y2="363.2412" stroke="#555" stroke-width="0.6"/>
<text x="444.3" y="379.5" font-size="6.6" text-anchor="middle" fill="#1a1a1a" font-weight="bold" stroke="#1a1a1a" stroke-width="0.1" >H2-D1</text>
<rect x="456.00" y="357.84" width="6.90" height="12.86" fill="#0d0d0d" />
<rect x="462.90" y="368.13" width="6.90" height="2.57" fill="#555555" stroke="#222" stroke-width="0.4" />
<line x1="466.34999999999997" y1="365.556" x2="466.34999999999997" y2="368.128" stroke="#555" stroke-width="0.6"/>
<line x1="465.34999999999997" y1="365.556" x2="467.34999999999997" y2="365.556" stroke="#555" stroke-width="0.6"/>
<rect x="469.80" y="368.13" width="6.90" height="2.57" fill="#888888" stroke="#222" stroke-width="0.4" />
<line x1="473.25" y1="366.842" x2="473.25" y2="368.128" stroke="#555" stroke-width="0.6"/>
<line x1="472.25" y1="366.842" x2="474.25" y2="366.842" stroke="#555" stroke-width="0.6"/>
<text x="466.3" y="379.5" font-size="6.6" text-anchor="middle" fill="#1a1a1a" font-weight="bold" stroke="#1a1a1a" stroke-width="0.1" >H2-K1</text>
<rect x="478.00" y="357.84" width="6.90" height="12.86" fill="#0d0d0d" />
<rect x="484.90" y="354.62" width="6.90" height="16.07" fill="#555555" stroke="#222" stroke-width="0.4" />
<line x1="488.34999999999997" y1="353.982" x2="488.34999999999997" y2="354.625" stroke="#555" stroke-width="0.6"/>
<line x1="487.34999999999997" y1="353.982" x2="489.34999999999997" y2="353.982" stroke="#555" stroke-width="0.6"/>
<rect x="491.80" y="365.56" width="6.90" height="5.14" fill="#888888" stroke="#222" stroke-width="0.4" />
<line x1="495.25" y1="364.913" x2="495.25" y2="365.556" stroke="#555" stroke-width="0.6"/>
<line x1="494.25" y1="364.913" x2="496.25" y2="364.913" stroke="#555" stroke-width="0.6"/>
<text x="488.3" y="379.5" font-size="6.6" text-anchor="middle" fill="#1a1a1a" font-weight="bold" stroke="#1a1a1a" stroke-width="0.1" >B2M</text>
<text x="467.7" y="303.2" font-size="7.8" text-anchor="middle" fill="#1a1a1a" font-weight="bold" stroke="#1a1a1a" stroke-width="0.08" >B16F10</text>
<rect x="490.90" y="314.10" width="3.10" height="3.10" fill="#0d0d0d" />
<text x="495.2" y="317.9" font-size="6.4" text-anchor="start" fill="#1a1a1a" font-weight="bold" stroke="#1a1a1a" stroke-width="0.08" >Ctrl-sh1</text>
<rect x="490.90" y="324.30" width="3.10" height="3.10" fill="#555555" />
<text x="495.2" y="328.09999999999997" font-size="6.4" text-anchor="start" fill="#1a1a1a" font-weight="bold" stroke="#1a1a1a" stroke-width="0.08" >Bptf-sh1</text>
<rect x="490.90" y="334.50" width="3.10" height="3.10" fill="#888888" />
<text x="495.2" y="338.29999999999995" font-size="6.4" text-anchor="start" fill="#1a1a1a" font-weight="bold" stroke="#1a1a1a" stroke-width="0.08" >Bptf-sh2</text>
</svg></body></html>
